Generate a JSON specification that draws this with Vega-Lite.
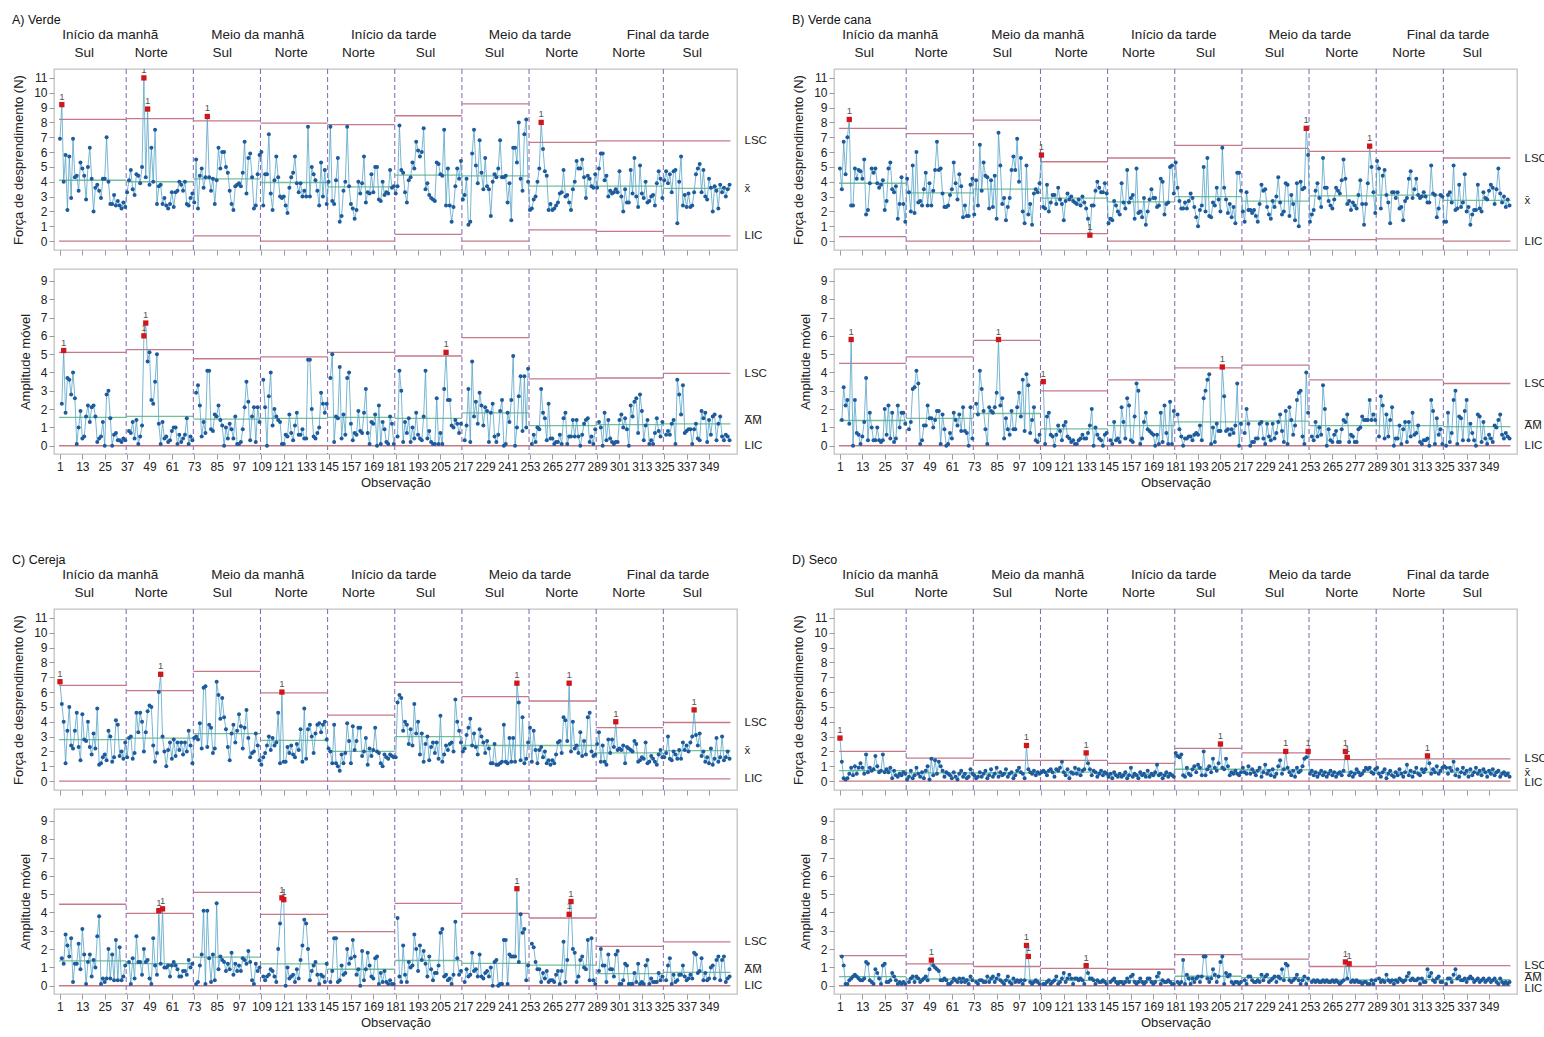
{
"$schema":"https://vega.github.io/schema/vega-lite/v6.json",
"background":"white",
"padding":{"left":12,"top":13,"right":0,"bottom":0},
"config":{
 "font":"Liberation Sans, Arial, sans-serif",
 "view":{"stroke":"#c2c2c2","strokeWidth":1.3},
 "axis":{"labelFont":"Liberation Sans, Arial, sans-serif","titleFont":"Liberation Sans, Arial, sans-serif","labelFontSize":12,"titleFontSize":13,"titleFontWeight":"normal","labelColor":"#222","titleColor":"#222","tickColor":"#999","domain":false,"grid":false},
 "title":{"font":"Liberation Sans, Arial, sans-serif","fontSize":12.5,"fontWeight":"normal","anchor":"start","color":"#111"}
},
"datasets":{
"hdr":[{"i":28,"t":"Início da manhã","r":"p"},{"i":107,"t":"Meio da manhã","r":"p"},{"i":180,"t":"Início da tarde","r":"p"},{"i":253,"t":"Meio da tarde","r":"p"},{"i":327,"t":"Final da tarde","r":"p"},{"i":14,"t":"Sul","r":"s"},{"i":50,"t":"Norte","r":"s"},{"i":88,"t":"Sul","r":"s"},{"i":125,"t":"Norte","r":"s"},{"i":161,"t":"Norte","r":"s"},{"i":197,"t":"Sul","r":"s"},{"i":234,"t":"Sul","r":"s"},{"i":270,"t":"Norte","r":"s"},{"i":306,"t":"Norte","r":"s"},{"i":340,"t":"Sul","r":"s"}],
"sep":[{"i":36.5},{"i":72.5},{"i":108.5},{"i":144.5},{"i":180.5},{"i":216.5},{"i":252.5},{"i":288.5},{"i":324.5}],
"lim":[
{"p":"A","i":0.5,"j":36.5,"u":8.2,"c":4.1,"l":0,"mu":5.1,"mc":1.55,"ml":0},
{"p":"A","i":36.5,"j":72.5,"u":8.25,"c":4.0,"l":0,"mu":5.25,"mc":1.6,"ml":0},
{"p":"A","i":72.5,"j":108.5,"u":8.1,"c":4.2,"l":0.35,"mu":4.75,"mc":1.45,"ml":0},
{"p":"A","i":108.5,"j":144.5,"u":7.95,"c":3.95,"l":0,"mu":4.85,"mc":1.5,"ml":0},
{"p":"A","i":144.5,"j":180.5,"u":7.85,"c":3.65,"l":0,"mu":5.1,"mc":1.55,"ml":0},
{"p":"A","i":180.5,"j":216.5,"u":8.45,"c":4.45,"l":0.45,"mu":4.9,"mc":1.5,"ml":0},
{"p":"A","i":216.5,"j":252.5,"u":9.25,"c":4.4,"l":0,"mu":5.9,"mc":1.8,"ml":0},
{"p":"A","i":252.5,"j":288.5,"u":6.65,"c":3.7,"l":0.75,"mu":3.65,"mc":1.1,"ml":0},
{"p":"A","i":288.5,"j":324.5,"u":6.75,"c":3.7,"l":0.65,"mu":3.7,"mc":1.15,"ml":0},
{"p":"A","i":324.5,"j":360.5,"u":6.75,"c":3.55,"l":0.35,"mu":3.95,"mc":1.2,"ml":0},
{"p":"B","i":0.5,"j":36.5,"u":7.6,"c":3.9,"l":0.3,"mu":4.5,"mc":1.38,"ml":0},
{"p":"B","i":36.5,"j":72.5,"u":7.25,"c":3.25,"l":0,"mu":4.85,"mc":1.5,"ml":0},
{"p":"B","i":72.5,"j":108.5,"u":8.15,"c":3.5,"l":0,"mu":5.75,"mc":1.76,"ml":0},
{"p":"B","i":108.5,"j":144.5,"u":5.35,"c":2.9,"l":0.5,"mu":3.0,"mc":0.92,"ml":0},
{"p":"B","i":144.5,"j":180.5,"u":5.6,"c":2.65,"l":0,"mu":3.6,"mc":1.1,"ml":0},
{"p":"B","i":180.5,"j":216.5,"u":6.45,"c":3.0,"l":0,"mu":4.25,"mc":1.3,"ml":0},
{"p":"B","i":216.5,"j":252.5,"u":6.25,"c":2.7,"l":0,"mu":4.4,"mc":1.35,"ml":0},
{"p":"B","i":252.5,"j":288.5,"u":6.05,"c":3.05,"l":0.1,"mu":3.6,"mc":1.1,"ml":0},
{"p":"B","i":288.5,"j":324.5,"u":6.05,"c":3.1,"l":0.15,"mu":3.6,"mc":1.1,"ml":0},
{"p":"B","i":324.5,"j":360.5,"u":5.6,"c":2.75,"l":0,"mu":3.4,"mc":1.04,"ml":0},
{"p":"C","i":0.5,"j":36.5,"u":6.45,"c":2.8,"l":0,"mu":4.45,"mc":1.36,"ml":0},
{"p":"C","i":36.5,"j":72.5,"u":6.1,"c":2.9,"l":0,"mu":3.95,"mc":1.21,"ml":0},
{"p":"C","i":72.5,"j":108.5,"u":7.4,"c":3.2,"l":0,"mu":5.1,"mc":1.56,"ml":0},
{"p":"C","i":108.5,"j":144.5,"u":5.95,"c":2.75,"l":0,"mu":3.9,"mc":1.2,"ml":0},
{"p":"C","i":144.5,"j":180.5,"u":4.45,"c":2.0,"l":0,"mu":2.95,"mc":0.9,"ml":0},
{"p":"C","i":180.5,"j":216.5,"u":6.65,"c":3.0,"l":0,"mu":4.5,"mc":1.38,"ml":0},
{"p":"C","i":216.5,"j":252.5,"u":5.7,"c":2.4,"l":0,"mu":3.95,"mc":1.22,"ml":0},
{"p":"C","i":252.5,"j":288.5,"u":5.4,"c":2.4,"l":0,"mu":3.7,"mc":1.13,"ml":0},
{"p":"C","i":288.5,"j":324.5,"u":3.6,"c":1.9,"l":0.2,"mu":2.15,"mc":0.66,"ml":0},
{"p":"C","i":324.5,"j":360.5,"u":3.95,"c":2.05,"l":0.15,"mu":2.4,"mc":0.73,"ml":0},
{"p":"D","i":0.5,"j":36.5,"u":2.0,"c":0.7,"l":0,"mu":1.65,"mc":0.5,"ml":0},
{"p":"D","i":36.5,"j":72.5,"u":1.55,"c":0.55,"l":0,"mu":1.2,"mc":0.37,"ml":0},
{"p":"D","i":72.5,"j":108.5,"u":1.4,"c":0.55,"l":0,"mu":1.05,"mc":0.32,"ml":0},
{"p":"D","i":108.5,"j":144.5,"u":1.4,"c":0.6,"l":0,"mu":0.95,"mc":0.29,"ml":0},
{"p":"D","i":144.5,"j":180.5,"u":1.2,"c":0.45,"l":0,"mu":0.9,"mc":0.28,"ml":0},
{"p":"D","i":180.5,"j":216.5,"u":2.2,"c":0.8,"l":0,"mu":1.7,"mc":0.52,"ml":0},
{"p":"D","i":216.5,"j":252.5,"u":1.9,"c":0.75,"l":0,"mu":1.45,"mc":0.44,"ml":0},
{"p":"D","i":252.5,"j":288.5,"u":1.45,"c":0.6,"l":0,"mu":1.05,"mc":0.32,"ml":0},
{"p":"D","i":288.5,"j":324.5,"u":1.5,"c":0.6,"l":0,"mu":1.1,"mc":0.34,"ml":0},
{"p":"D","i":324.5,"j":360.5,"u":1.5,"c":0.6,"l":0,"mu":1.1,"mc":0.34,"ml":0}
],
"A":[
{"i":1,"f":6.9},{"i":2,"f":9.2,"m":2.3,"o":1},{"i":3,"f":4.0,"m":5.2,"q":1},{"i":4,"f":5.8,"m":1.8},{"i":5,"f":2.1,"m":3.7},{"i":6,"f":5.7,"m":3.6},{"i":7,"f":2.9,"m":2.8},{"i":8,"f":6.9,"m":4.0},{"i":9,"f":4.3,"m":2.6},{"i":10,"f":4.4,"m":0.1},{"i":11,"f":3.4,"m":1.0},{"i":12,"f":5.3,"m":1.9},{"i":13,"f":4.9,"m":0.4},{"i":14,"f":4.4,"m":0.5},{"i":15,"f":2.8,"m":1.6},{"i":16,"f":5.0,"m":2.2},{"i":17,"f":6.3,"m":1.3},{"i":18,"f":4.2,"m":2.1},{"i":19,"f":2.0,"m":2.2},{"i":20,"f":3.6,"m":1.6},{"i":21,"f":3.8,"m":0.2},{"i":22,"f":3.4,"m":0.4},{"i":23,"f":2.9,"m":0.5},{"i":24,"f":4.2,"m":1.3},{"i":25,"f":4.2,"m":0.0},{"i":26,"f":7.0,"m":2.8},{"i":27,"f":4.0,"m":3.0},{"i":28,"f":2.5,"m":1.5},{"i":29,"f":2.5,"m":0.0},{"i":30,"f":3.1,"m":0.6},{"i":31,"f":2.4,"m":0.7},{"i":32,"f":2.7,"m":0.3},{"i":33,"f":2.4,"m":0.3},{"i":34,"f":2.2,"m":0.2},{"i":35,"f":2.6,"m":0.4},{"i":36,"f":2.3,"m":0.3},
{"i":37,"f":3.3},{"i":38,"f":4.1,"m":0.8},{"i":39,"f":4.8,"m":0.7},{"i":40,"f":3.5,"m":1.3},{"i":41,"f":3.1,"m":0.4},{"i":42,"f":4.5,"m":1.4},{"i":43,"f":4.4,"m":0.1},{"i":44,"f":3.9,"m":0.5},{"i":45,"f":5.0,"m":1.1},{"i":46,"f":11.0,"m":6.0,"o":1,"q":1},{"i":47,"f":4.3,"m":6.7,"q":1},{"i":48,"f":8.9,"m":4.6,"o":1},{"i":49,"f":3.8,"m":5.1},{"i":50,"f":6.3,"m":2.5},{"i":51,"f":4.0,"m":2.3},{"i":52,"f":7.5,"m":3.5},{"i":53,"f":2.5,"m":5.0},{"i":54,"f":3.7,"m":1.2},{"i":55,"f":3.8,"m":0.1},{"i":56,"f":2.5,"m":1.3},{"i":57,"f":2.9,"m":0.4},{"i":58,"f":2.4,"m":0.5},{"i":59,"f":2.2,"m":0.2},{"i":60,"f":2.5,"m":0.3},{"i":61,"f":3.3,"m":0.8},{"i":62,"f":2.3,"m":1.0},{"i":63,"f":3.3,"m":1.0},{"i":64,"f":3.4,"m":0.1},{"i":65,"f":4.0,"m":0.6},{"i":66,"f":3.8,"m":0.2},{"i":67,"f":3.4,"m":0.4},{"i":68,"f":4.0,"m":0.6},{"i":69,"f":2.5,"m":1.5},{"i":70,"f":2.4,"m":0.1},{"i":71,"f":2.9,"m":0.5},{"i":72,"f":3.2,"m":0.3},
{"i":73,"f":2.6},{"i":74,"f":5.5,"m":2.9},{"i":75,"f":2.2,"m":3.3},{"i":76,"f":4.4,"m":2.2},{"i":77,"f":4.9,"m":0.5},{"i":78,"f":3.6,"m":1.3},{"i":79,"f":4.3,"m":0.7},{"i":80,"f":8.4,"m":4.1,"o":1},{"i":81,"f":4.3,"m":4.1},{"i":82,"f":3.4,"m":0.9},{"i":83,"f":4.2,"m":0.8},{"i":84,"f":2.5,"m":1.7},{"i":85,"f":4.1,"m":1.6},{"i":86,"f":6.3,"m":2.2},{"i":87,"f":4.9,"m":1.4},{"i":88,"f":6.0,"m":1.1},{"i":89,"f":6.0,"m":0.0},{"i":90,"f":5.0,"m":1.0},{"i":91,"f":4.6,"m":0.4},{"i":92,"f":3.4,"m":1.2},{"i":93,"f":2.5,"m":0.9},{"i":94,"f":2.1,"m":0.4},{"i":95,"f":3.7,"m":1.6},{"i":96,"f":3.8,"m":0.1},{"i":97,"f":3.9,"m":0.1},{"i":98,"f":3.7,"m":0.2},{"i":99,"f":4.6,"m":0.9},{"i":100,"f":6.7,"m":2.1},{"i":101,"f":3.2,"m":3.5},{"i":102,"f":5.6,"m":2.4},{"i":103,"f":5.9,"m":0.3},{"i":104,"f":4.3,"m":1.6},{"i":105,"f":2.2,"m":2.1},{"i":106,"f":2.4,"m":0.2},{"i":107,"f":4.5,"m":2.1},{"i":108,"f":5.8,"m":1.3},
{"i":109,"f":6.0},{"i":110,"f":2.4,"m":3.6},{"i":111,"f":4.5,"m":2.1},{"i":112,"f":4.5,"m":0.0},{"i":113,"f":7.2,"m":2.7},{"i":114,"f":3.2,"m":4.0},{"i":115,"f":2.1,"m":1.1},{"i":116,"f":4.1,"m":2.0},{"i":117,"f":5.7,"m":1.6},{"i":118,"f":4.3,"m":1.4},{"i":119,"f":3.0,"m":1.3},{"i":120,"f":2.9,"m":0.1},{"i":121,"f":3.0,"m":0.1},{"i":122,"f":2.4,"m":0.6},{"i":123,"f":1.9,"m":0.5},{"i":124,"f":3.6,"m":1.7},{"i":125,"f":4.3,"m":0.7},{"i":126,"f":4.6,"m":0.3},{"i":127,"f":5.7,"m":1.1},{"i":128,"f":3.9,"m":1.8},{"i":129,"f":3.3,"m":0.6},{"i":130,"f":3.9,"m":0.6},{"i":131,"f":3.0,"m":0.9},{"i":132,"f":3.4,"m":0.4},{"i":133,"f":3.0,"m":0.4},{"i":134,"f":7.7,"m":4.7},{"i":135,"f":3.0,"m":4.7},{"i":136,"f":5.0,"m":2.0},{"i":137,"f":4.5,"m":0.5},{"i":138,"f":4.1,"m":0.4},{"i":139,"f":3.4,"m":0.7},{"i":140,"f":2.4,"m":1.0},{"i":141,"f":5.3,"m":2.9},{"i":142,"f":3.0,"m":2.3},{"i":143,"f":4.8,"m":1.8},{"i":144,"f":2.5,"m":2.3},
{"i":145,"f":4.0},{"i":146,"f":7.7,"m":3.7},{"i":147,"f":2.7,"m":5.0},{"i":148,"f":2.5,"m":0.2},{"i":149,"f":4.1,"m":1.6},{"i":150,"f":5.6,"m":1.5},{"i":151,"f":1.3,"m":4.3},{"i":152,"f":1.7,"m":0.4},{"i":153,"f":3.4,"m":1.7},{"i":154,"f":4.0,"m":0.6},{"i":155,"f":7.7,"m":3.7},{"i":156,"f":3.7,"m":4.0},{"i":157,"f":2.5,"m":1.2},{"i":158,"f":2.2,"m":0.3},{"i":159,"f":1.5,"m":0.7},{"i":160,"f":2.1,"m":0.6},{"i":161,"f":4.0,"m":1.9},{"i":162,"f":3.2,"m":0.8},{"i":163,"f":3.9,"m":0.7},{"i":164,"f":5.7,"m":1.8},{"i":165,"f":2.6,"m":3.1},{"i":166,"f":3.3,"m":0.7},{"i":167,"f":3.2,"m":0.1},{"i":168,"f":4.5,"m":1.3},{"i":169,"f":3.3,"m":1.2},{"i":170,"f":5.0,"m":1.7},{"i":171,"f":5.0,"m":0.0},{"i":172,"f":2.8,"m":2.2},{"i":173,"f":2.7,"m":0.1},{"i":174,"f":4.0,"m":1.3},{"i":175,"f":3.1,"m":0.9},{"i":176,"f":3.3,"m":0.2},{"i":177,"f":3.2,"m":0.1},{"i":178,"f":4.8,"m":1.6},{"i":179,"f":3.6,"m":1.2},{"i":180,"f":3.7,"m":0.1},
{"i":181,"f":3.2},{"i":182,"f":3.7,"m":0.5},{"i":183,"f":7.8,"m":4.1},{"i":184,"f":4.8,"m":3.0},{"i":185,"f":4.6,"m":0.2},{"i":186,"f":3.3,"m":1.3},{"i":187,"f":2.6,"m":0.7},{"i":188,"f":4.1,"m":1.5},{"i":189,"f":4.3,"m":0.2},{"i":190,"f":5.3,"m":1.0},{"i":191,"f":4.9,"m":0.4},{"i":192,"f":6.7,"m":1.8},{"i":193,"f":6.1,"m":0.6},{"i":194,"f":5.7,"m":0.4},{"i":195,"f":6.0,"m":0.3},{"i":196,"f":7.6,"m":1.6},{"i":197,"f":3.5,"m":4.1},{"i":198,"f":3.9,"m":0.4},{"i":199,"f":3.1,"m":0.8},{"i":200,"f":2.9,"m":0.2},{"i":201,"f":2.8,"m":0.1},{"i":202,"f":2.7,"m":0.1},{"i":203,"f":5.3,"m":2.6},{"i":204,"f":5.2,"m":0.1},{"i":205,"f":4.5,"m":0.7},{"i":206,"f":4.4,"m":0.1},{"i":207,"f":7.5,"m":3.1},{"i":208,"f":2.4,"m":5.1,"q":1},{"i":209,"f":4.9,"m":2.5},{"i":210,"f":2.4,"m":2.5},{"i":211,"f":1.3,"m":1.1},{"i":212,"f":2.3,"m":1.0},{"i":213,"f":3.7,"m":1.4},{"i":214,"f":4.9,"m":1.2},{"i":215,"f":4.2,"m":0.7},{"i":216,"f":5.4,"m":1.2},
{"i":217,"f":2.8},{"i":218,"f":3.1,"m":0.3},{"i":219,"f":4.2,"m":1.1},{"i":220,"f":1.1,"m":3.1},{"i":221,"f":1.3,"m":0.2},{"i":222,"f":5.9,"m":4.6},{"i":223,"f":7.5,"m":1.6},{"i":224,"f":5.1,"m":2.4},{"i":225,"f":3.9,"m":1.2},{"i":226,"f":6.8,"m":2.9},{"i":227,"f":4.6,"m":2.2},{"i":228,"f":3.5,"m":1.1},{"i":229,"f":5.6,"m":2.1},{"i":230,"f":3.7,"m":1.9},{"i":231,"f":3.5,"m":0.2},{"i":232,"f":1.7,"m":1.8},{"i":233,"f":4.0,"m":2.3},{"i":234,"f":4.5,"m":0.5},{"i":235,"f":4.3,"m":0.2},{"i":236,"f":4.9,"m":0.6},{"i":237,"f":6.8,"m":1.9},{"i":238,"f":4.3,"m":2.5},{"i":239,"f":4.3,"m":0.0},{"i":240,"f":4.4,"m":0.1},{"i":241,"f":2.6,"m":1.8},{"i":242,"f":3.9,"m":1.3},{"i":243,"f":1.4,"m":2.5},{"i":244,"f":6.3,"m":4.9},{"i":245,"f":6.3,"m":0.0},{"i":246,"f":5.3,"m":1.0},{"i":247,"f":8.0,"m":2.7},{"i":248,"f":4.2,"m":3.8},{"i":249,"f":3.4,"m":0.8},{"i":250,"f":7.2,"m":3.8},{"i":251,"f":8.2,"m":1.0},{"i":252,"f":4.0,"m":4.2},
{"i":253,"f":2.1},{"i":254,"f":2.2,"m":0.1},{"i":255,"f":2.8,"m":0.6},{"i":256,"f":3.0,"m":0.2},{"i":257,"f":4.0,"m":1.0},{"i":258,"f":4.9,"m":0.9},{"i":259,"f":8.0,"m":3.1,"o":1},{"i":260,"f":6.2,"m":1.8},{"i":261,"f":4.7,"m":1.5},{"i":262,"f":4.4,"m":0.3},{"i":263,"f":2.1,"m":2.3},{"i":264,"f":2.5,"m":0.4},{"i":265,"f":2.1,"m":0.4},{"i":266,"f":2.2,"m":0.1},{"i":267,"f":2.4,"m":0.2},{"i":268,"f":2.6,"m":0.2},{"i":269,"f":3.2,"m":0.6},{"i":270,"f":3.3,"m":0.1},{"i":271,"f":4.8,"m":1.5},{"i":272,"f":3.0,"m":1.8},{"i":273,"f":3.1,"m":0.1},{"i":274,"f":2.6,"m":0.5},{"i":275,"f":2.1,"m":0.5},{"i":276,"f":3.5,"m":1.4},{"i":277,"f":4.0,"m":0.5},{"i":278,"f":5.4,"m":1.4},{"i":279,"f":4.9,"m":0.5},{"i":280,"f":4.9,"m":0.0},{"i":281,"f":5.5,"m":0.6},{"i":282,"f":4.3,"m":1.2},{"i":283,"f":2.9,"m":1.4},{"i":284,"f":4.4,"m":1.5},{"i":285,"f":4.2,"m":0.2},{"i":286,"f":3.7,"m":0.5},{"i":287,"f":3.6,"m":0.1},{"i":288,"f":4.5,"m":0.9},
{"i":289,"f":3.6},{"i":290,"f":4.9,"m":1.3},{"i":291,"f":5.9,"m":1.0},{"i":292,"f":5.9,"m":0.0},{"i":293,"f":4.1,"m":1.8},{"i":294,"f":4.4,"m":0.3},{"i":295,"f":3.0,"m":1.4},{"i":296,"f":3.4,"m":0.4},{"i":297,"f":3.2,"m":0.2},{"i":298,"f":3.3,"m":0.1},{"i":299,"f":3.5,"m":0.2},{"i":300,"f":3.3,"m":0.2},{"i":301,"f":4.7,"m":1.4},{"i":302,"f":3.0,"m":1.7},{"i":303,"f":2.0,"m":1.0},{"i":304,"f":3.5,"m":1.5},{"i":305,"f":2.6,"m":0.9},{"i":306,"f":2.6,"m":0.0},{"i":307,"f":4.8,"m":2.2},{"i":308,"f":3.2,"m":1.6},{"i":309,"f":5.6,"m":2.4},{"i":310,"f":3.0,"m":2.6},{"i":311,"f":2.3,"m":0.7},{"i":312,"f":5.1,"m":2.8},{"i":313,"f":3.2,"m":1.9},{"i":314,"f":2.9,"m":0.3},{"i":315,"f":4.0,"m":1.1},{"i":316,"f":2.6,"m":1.4},{"i":317,"f":2.7,"m":0.1},{"i":318,"f":3.0,"m":0.3},{"i":319,"f":3.1,"m":0.1},{"i":320,"f":2.4,"m":0.7},{"i":321,"f":3.9,"m":1.5},{"i":322,"f":4.7,"m":0.8},{"i":323,"f":4.2,"m":0.5},{"i":324,"f":2.9,"m":1.3},
{"i":325,"f":4.1},{"i":326,"f":4.7,"m":0.6},{"i":327,"f":3.9,"m":0.8},{"i":328,"f":4.5,"m":0.6},{"i":329,"f":3.3,"m":1.2},{"i":330,"f":4.7,"m":1.4},{"i":331,"f":4.8,"m":0.1},{"i":332,"f":1.2,"m":3.6},{"i":333,"f":4.0,"m":2.8},{"i":334,"f":5.7,"m":1.7},{"i":335,"f":2.4,"m":3.3},{"i":336,"f":3.1,"m":0.7},{"i":337,"f":2.3,"m":0.8},{"i":338,"f":3.2,"m":0.9},{"i":339,"f":2.3,"m":0.9},{"i":340,"f":2.4,"m":0.1},{"i":341,"f":3.3,"m":0.9},{"i":342,"f":4.5,"m":1.2},{"i":343,"f":4.9,"m":0.4},{"i":344,"f":5.2,"m":0.3},{"i":345,"f":3.3,"m":1.9},{"i":346,"f":4.8,"m":1.5},{"i":347,"f":3.0,"m":1.8},{"i":348,"f":2.8,"m":0.2},{"i":349,"f":4.2,"m":1.4},{"i":350,"f":3.6,"m":0.6},{"i":351,"f":2.0,"m":1.6},{"i":352,"f":3.7,"m":1.7},{"i":353,"f":3.4,"m":0.3},{"i":354,"f":2.2,"m":1.2},{"i":355,"f":3.8,"m":1.6},{"i":356,"f":3.3,"m":0.5},{"i":357,"f":3.6,"m":0.3},{"i":358,"f":3.0,"m":0.6},{"i":359,"f":3.5,"m":0.5},{"i":360,"f":3.8,"m":0.3}
],
"B":[
{"i":1,"f":4.9},{"i":2,"f":3.5,"m":1.4},{"i":3,"f":6.7,"m":3.2},{"i":4,"f":4.5,"m":2.2},{"i":5,"f":7.0,"m":2.5},{"i":6,"f":8.2,"m":1.2,"o":1},{"i":7,"f":2.4,"m":5.8,"q":1},{"i":8,"f":2.4,"m":0.0},{"i":9,"f":4.9,"m":2.5},{"i":10,"f":4.2,"m":0.7},{"i":11,"f":4.8,"m":0.6},{"i":12,"f":4.7,"m":0.1},{"i":13,"f":4.2,"m":0.5},{"i":14,"f":5.5,"m":1.3},{"i":15,"f":1.8,"m":3.7},{"i":16,"f":2.1,"m":0.3},{"i":17,"f":3.9,"m":1.8},{"i":18,"f":4.9,"m":1.0},{"i":19,"f":4.6,"m":0.3},{"i":20,"f":4.9,"m":0.3},{"i":21,"f":3.9,"m":1.0},{"i":22,"f":3.6,"m":0.3},{"i":23,"f":3.8,"m":0.2},{"i":24,"f":4.1,"m":0.3},{"i":25,"f":2.1,"m":2.0},{"i":26,"f":2.7,"m":0.6},{"i":27,"f":4.9,"m":2.2},{"i":28,"f":5.3,"m":0.4},{"i":29,"f":3.5,"m":1.8},{"i":30,"f":3.3,"m":0.2},{"i":31,"f":3.7,"m":0.4},{"i":32,"f":1.5,"m":2.2},{"i":33,"f":2.5,"m":1.0},{"i":34,"f":4.3,"m":1.8},{"i":35,"f":2.5,"m":1.8},{"i":36,"f":1.3,"m":1.2},
{"i":37,"f":4.2},{"i":38,"f":3.3,"m":0.9},{"i":39,"f":2.0,"m":1.3},{"i":40,"f":5.1,"m":3.1},{"i":41,"f":1.9,"m":3.2},{"i":42,"f":6.0,"m":4.1},{"i":43,"f":2.6,"m":3.4},{"i":44,"f":2.7,"m":0.1},{"i":45,"f":2.4,"m":0.3},{"i":46,"f":3.5,"m":1.1},{"i":47,"f":4.6,"m":1.1},{"i":48,"f":2.4,"m":2.2},{"i":49,"f":3.9,"m":1.5},{"i":50,"f":2.4,"m":1.5},{"i":51,"f":3.4,"m":1.0},{"i":52,"f":4.8,"m":1.4},{"i":53,"f":6.7,"m":1.9},{"i":54,"f":4.8,"m":1.9},{"i":55,"f":4.9,"m":0.1},{"i":56,"f":3.2,"m":1.7},{"i":57,"f":2.3,"m":0.9},{"i":58,"f":2.3,"m":0.0},{"i":59,"f":2.4,"m":0.1},{"i":60,"f":3.1,"m":0.7},{"i":61,"f":3.5,"m":0.4},{"i":62,"f":5.3,"m":1.8},{"i":63,"f":3.9,"m":1.4},{"i":64,"f":2.8,"m":1.1},{"i":65,"f":4.5,"m":1.7},{"i":66,"f":3.7,"m":0.8},{"i":67,"f":1.6,"m":2.1},{"i":68,"f":2.4,"m":0.8},{"i":69,"f":1.7,"m":0.7},{"i":70,"f":1.7,"m":0.0},{"i":71,"f":3.8,"m":2.1},{"i":72,"f":4.2,"m":0.4},
{"i":73,"f":1.8},{"i":74,"f":4.1,"m":2.3},{"i":75,"f":2.4,"m":1.7},{"i":76,"f":6.5,"m":4.1},{"i":77,"f":3.4,"m":3.1},{"i":78,"f":5.3,"m":1.9},{"i":79,"f":4.4,"m":0.9},{"i":80,"f":4.3,"m":0.1},{"i":81,"f":2.2,"m":2.1},{"i":82,"f":4.1,"m":1.9},{"i":83,"f":2.3,"m":1.8},{"i":84,"f":4.4,"m":2.1},{"i":85,"f":1.5,"m":2.9},{"i":86,"f":7.3,"m":5.8,"q":1},{"i":87,"f":5.1,"m":2.2},{"i":88,"f":2.5,"m":2.6},{"i":89,"f":2.9,"m":0.4},{"i":90,"f":1.4,"m":1.5},{"i":91,"f":2.3,"m":0.9},{"i":92,"f":2.9,"m":0.6},{"i":93,"f":4.8,"m":1.9},{"i":94,"f":5.7,"m":0.9},{"i":95,"f":4.8,"m":0.9},{"i":96,"f":6.9,"m":2.1},{"i":97,"f":4.0,"m":2.9},{"i":98,"f":5.6,"m":1.6},{"i":99,"f":2.0,"m":3.6},{"i":100,"f":1.2,"m":0.8},{"i":101,"f":5.1,"m":3.9},{"i":102,"f":1.8,"m":3.3},{"i":103,"f":2.5,"m":0.7},{"i":104,"f":1.1,"m":1.4},{"i":105,"f":3.2,"m":2.1},{"i":106,"f":3.5,"m":0.3},{"i":107,"f":3.3,"m":0.2},{"i":108,"f":3.9,"m":0.6},
{"i":109,"f":5.8,"o":1},{"i":110,"f":2.3,"m":3.5,"q":1},{"i":111,"f":2.2,"m":0.1},{"i":112,"f":3.8,"m":1.6},{"i":113,"f":2.0,"m":1.8},{"i":114,"f":2.6,"m":0.6},{"i":115,"f":3.1,"m":0.5},{"i":116,"f":3.1,"m":0.0},{"i":117,"f":2.5,"m":0.6},{"i":118,"f":3.6,"m":1.1},{"i":119,"f":2.8,"m":0.8},{"i":120,"f":2.5,"m":0.3},{"i":121,"f":1.4,"m":1.1},{"i":122,"f":2.7,"m":1.3},{"i":123,"f":3.2,"m":0.5},{"i":124,"f":2.8,"m":0.4},{"i":125,"f":3.0,"m":0.2},{"i":126,"f":2.7,"m":0.3},{"i":127,"f":2.6,"m":0.1},{"i":128,"f":2.5,"m":0.1},{"i":129,"f":2.8,"m":0.3},{"i":130,"f":2.4,"m":0.4},{"i":131,"f":3.0,"m":0.6},{"i":132,"f":2.6,"m":0.4},{"i":133,"f":2.2,"m":0.4},{"i":134,"f":1.5,"m":0.7},{"i":135,"f":0.4,"m":1.1,"o":1},{"i":136,"f":2.4,"m":2.0},{"i":137,"f":2.4,"m":0.0},{"i":138,"f":3.4,"m":1.0},{"i":139,"f":4.0,"m":0.6},{"i":140,"f":3.6,"m":0.4},{"i":141,"f":3.3,"m":0.3},{"i":142,"f":3.3,"m":0.0},{"i":143,"f":3.9,"m":0.6},{"i":144,"f":3.2,"m":0.7},
{"i":145,"f":1.2},{"i":146,"f":1.5,"m":0.3},{"i":147,"f":1.4,"m":0.1},{"i":148,"f":2.7,"m":1.3},{"i":149,"f":2.4,"m":0.3},{"i":150,"f":2.0,"m":0.4},{"i":151,"f":1.8,"m":0.2},{"i":152,"f":3.9,"m":2.1},{"i":153,"f":2.6,"m":1.3},{"i":154,"f":2.2,"m":0.4},{"i":155,"f":4.8,"m":2.6},{"i":156,"f":2.6,"m":2.2},{"i":157,"f":2.9,"m":0.3},{"i":158,"f":3.1,"m":0.2},{"i":159,"f":1.5,"m":1.6},{"i":160,"f":4.9,"m":3.4},{"i":161,"f":1.9,"m":3.0},{"i":162,"f":2.0,"m":0.1},{"i":163,"f":1.6,"m":0.4},{"i":164,"f":2.9,"m":1.3},{"i":165,"f":1.1,"m":1.8},{"i":166,"f":2.0,"m":0.9},{"i":167,"f":2.8,"m":0.8},{"i":168,"f":3.5,"m":0.7},{"i":169,"f":2.9,"m":0.6},{"i":170,"f":2.9,"m":0.0},{"i":171,"f":2.3,"m":0.6},{"i":172,"f":2.4,"m":0.1},{"i":173,"f":4.2,"m":1.8},{"i":174,"f":4.0,"m":0.2},{"i":175,"f":1.8,"m":2.2},{"i":176,"f":2.5,"m":0.7},{"i":177,"f":2.6,"m":0.1},{"i":178,"f":5.0,"m":2.4},{"i":179,"f":5.1,"m":0.1},{"i":180,"f":3.2,"m":1.9},
{"i":181,"f":5.3},{"i":182,"f":3.6,"m":1.7},{"i":183,"f":2.7,"m":0.9},{"i":184,"f":2.2,"m":0.5},{"i":185,"f":2.2,"m":0.0},{"i":186,"f":2.6,"m":0.4},{"i":187,"f":2.2,"m":0.4},{"i":188,"f":2.7,"m":0.5},{"i":189,"f":3.2,"m":0.5},{"i":190,"f":2.9,"m":0.3},{"i":191,"f":2.3,"m":0.6},{"i":192,"f":1.6,"m":0.7},{"i":193,"f":1.0,"m":0.6},{"i":194,"f":2.1,"m":1.1},{"i":195,"f":2.4,"m":0.3},{"i":196,"f":5.0,"m":2.6},{"i":197,"f":2.0,"m":3.0},{"i":198,"f":5.6,"m":3.6},{"i":199,"f":1.7,"m":3.9},{"i":200,"f":1.6,"m":0.1},{"i":201,"f":2.6,"m":1.0},{"i":202,"f":2.4,"m":0.2},{"i":203,"f":3.6,"m":1.2},{"i":204,"f":2.8,"m":0.8},{"i":205,"f":2.0,"m":0.8},{"i":206,"f":6.3,"m":4.3,"q":1},{"i":207,"f":3.6,"m":2.7},{"i":208,"f":2.8,"m":0.8},{"i":209,"f":1.9,"m":0.9},{"i":210,"f":2.5,"m":0.6},{"i":211,"f":1.6,"m":0.9},{"i":212,"f":2.3,"m":0.7},{"i":213,"f":1.2,"m":1.1},{"i":214,"f":4.6,"m":3.4},{"i":215,"f":4.6,"m":0.0},{"i":216,"f":3.4,"m":1.2},
{"i":217,"f":2.0},{"i":218,"f":1.3,"m":0.7},{"i":219,"f":3.3,"m":2.0},{"i":220,"f":2.1,"m":1.2},{"i":221,"f":2.1,"m":0.0},{"i":222,"f":1.9,"m":0.2},{"i":223,"f":2.1,"m":0.2},{"i":224,"f":1.7,"m":0.4},{"i":225,"f":1.3,"m":0.4},{"i":226,"f":2.5,"m":1.2},{"i":227,"f":3.8,"m":1.3},{"i":228,"f":3.4,"m":0.4},{"i":229,"f":3.5,"m":0.1},{"i":230,"f":2.3,"m":1.2},{"i":231,"f":1.8,"m":0.5},{"i":232,"f":1.5,"m":0.3},{"i":233,"f":2.7,"m":1.2},{"i":234,"f":2.3,"m":0.4},{"i":235,"f":3.0,"m":0.7},{"i":236,"f":4.3,"m":1.3},{"i":237,"f":2.6,"m":1.7},{"i":238,"f":1.8,"m":0.8},{"i":239,"f":2.0,"m":0.2},{"i":240,"f":3.9,"m":1.9},{"i":241,"f":3.8,"m":0.1},{"i":242,"f":1.7,"m":2.1},{"i":243,"f":3.1,"m":1.4},{"i":244,"f":2.5,"m":0.6},{"i":245,"f":1.4,"m":1.1},{"i":246,"f":3.9,"m":2.5},{"i":247,"f":1.0,"m":2.9},{"i":248,"f":4.0,"m":3.0},{"i":249,"f":3.5,"m":0.5},{"i":250,"f":3.6,"m":0.1},{"i":251,"f":7.6,"m":4.0,"o":1},{"i":252,"f":5.8,"m":1.8},
{"i":253,"f":1.3},{"i":254,"f":1.8,"m":0.5},{"i":255,"f":2.1,"m":0.3},{"i":256,"f":3.4,"m":1.3},{"i":257,"f":3.9,"m":0.5},{"i":258,"f":2.9,"m":1.0},{"i":259,"f":2.3,"m":0.6},{"i":260,"f":5.6,"m":3.3},{"i":261,"f":3.6,"m":2.0},{"i":262,"f":3.6,"m":0.0},{"i":263,"f":2.7,"m":0.9},{"i":264,"f":2.4,"m":0.3},{"i":265,"f":2.2,"m":0.2},{"i":266,"f":2.8,"m":0.6},{"i":267,"f":3.6,"m":0.8},{"i":268,"f":3.4,"m":0.2},{"i":269,"f":3.2,"m":0.2},{"i":270,"f":4.1,"m":0.9},{"i":271,"f":5.5,"m":1.4},{"i":272,"f":4.2,"m":1.3},{"i":273,"f":2.5,"m":1.7},{"i":274,"f":2.7,"m":0.2},{"i":275,"f":2.1,"m":0.6},{"i":276,"f":2.6,"m":0.5},{"i":277,"f":2.4,"m":0.2},{"i":278,"f":2.2,"m":0.2},{"i":279,"f":3.1,"m":0.9},{"i":280,"f":4.1,"m":1.0},{"i":281,"f":2.5,"m":1.6},{"i":282,"f":1.1,"m":1.4},{"i":283,"f":2.5,"m":1.4},{"i":284,"f":3.9,"m":1.4},{"i":285,"f":6.4,"m":2.5,"o":1},{"i":286,"f":5.0,"m":1.4},{"i":287,"f":3.3,"m":1.7},{"i":288,"f":1.9,"m":1.4},
{"i":289,"f":5.4},{"i":290,"f":4.9,"m":0.5},{"i":291,"f":2.2,"m":2.7},{"i":292,"f":4.4,"m":2.2},{"i":293,"f":4.8,"m":0.4},{"i":294,"f":3.1,"m":1.7},{"i":295,"f":2.6,"m":0.5},{"i":296,"f":1.2,"m":1.4},{"i":297,"f":3.3,"m":2.1},{"i":298,"f":3.3,"m":0.0},{"i":299,"f":2.9,"m":0.4},{"i":300,"f":3.3,"m":0.4},{"i":301,"f":2.2,"m":1.1},{"i":302,"f":2.3,"m":0.1},{"i":303,"f":1.4,"m":0.9},{"i":304,"f":2.7,"m":1.3},{"i":305,"f":2.9,"m":0.2},{"i":306,"f":4.2,"m":1.3},{"i":307,"f":4.7,"m":0.5},{"i":308,"f":2.9,"m":1.8},{"i":309,"f":3.5,"m":0.6},{"i":310,"f":4.2,"m":0.7},{"i":311,"f":3.1,"m":1.1},{"i":312,"f":2.9,"m":0.2},{"i":313,"f":3.0,"m":0.1},{"i":314,"f":3.3,"m":0.3},{"i":315,"f":3.0,"m":0.3},{"i":316,"f":2.6,"m":0.4},{"i":317,"f":2.6,"m":0.0},{"i":318,"f":5.1,"m":2.5},{"i":319,"f":3.2,"m":1.9},{"i":320,"f":3.1,"m":0.1},{"i":321,"f":1.6,"m":1.5},{"i":322,"f":2.2,"m":0.6},{"i":323,"f":3.1,"m":0.9},{"i":324,"f":3.0,"m":0.1},
{"i":325,"f":1.3},{"i":326,"f":1.3,"m":0.0},{"i":327,"f":3.1,"m":1.8},{"i":328,"f":3.3,"m":0.2},{"i":329,"f":2.6,"m":0.7},{"i":330,"f":5.1,"m":2.5},{"i":331,"f":2.1,"m":3.0},{"i":332,"f":2.2,"m":0.1},{"i":333,"f":3.8,"m":1.6},{"i":334,"f":2.3,"m":1.5},{"i":335,"f":2.6,"m":0.3},{"i":336,"f":4.5,"m":1.9},{"i":337,"f":2.0,"m":2.5},{"i":338,"f":2.3,"m":0.3},{"i":339,"f":1.1,"m":1.2},{"i":340,"f":1.8,"m":0.7},{"i":341,"f":2.1,"m":0.3},{"i":342,"f":2.1,"m":0.0},{"i":343,"f":3.8,"m":1.7},{"i":344,"f":2.2,"m":1.6},{"i":345,"f":2.0,"m":0.2},{"i":346,"f":3.3,"m":1.3},{"i":347,"f":2.9,"m":0.4},{"i":348,"f":2.8,"m":0.1},{"i":349,"f":3.4,"m":0.6},{"i":350,"f":3.8,"m":0.4},{"i":351,"f":3.6,"m":0.2},{"i":352,"f":2.5,"m":1.1},{"i":353,"f":3.5,"m":1.0},{"i":354,"f":4.9,"m":1.4},{"i":355,"f":3.2,"m":1.7},{"i":356,"f":2.6,"m":0.6},{"i":357,"f":3.0,"m":0.4},{"i":358,"f":2.3,"m":0.7},{"i":359,"f":2.8,"m":0.5},{"i":360,"f":2.4,"m":0.4}
],
"C":[
{"i":1,"f":6.7,"o":1},{"i":2,"f":5.2,"m":1.5},{"i":3,"f":4.0,"m":1.2},{"i":4,"f":1.2,"m":2.8},{"i":5,"f":3.4,"m":2.2},{"i":6,"f":5.0,"m":1.6},{"i":7,"f":2.4,"m":2.6},{"i":8,"f":2.2,"m":0.2},{"i":9,"f":3.4,"m":1.2},{"i":10,"f":4.6,"m":1.2},{"i":11,"f":2.3,"m":2.3},{"i":12,"f":1.4,"m":0.9},{"i":13,"f":4.5,"m":3.1},{"i":14,"f":2.8,"m":1.7},{"i":15,"f":2.7,"m":0.1},{"i":16,"f":4.0,"m":1.3},{"i":17,"f":2.3,"m":1.7},{"i":18,"f":1.8,"m":0.5},{"i":19,"f":3.2,"m":1.4},{"i":20,"f":2.2,"m":1.0},{"i":21,"f":4.9,"m":2.7},{"i":22,"f":1.1,"m":3.8},{"i":23,"f":1.2,"m":0.1},{"i":24,"f":1.6,"m":0.4},{"i":25,"f":1.8,"m":0.2},{"i":26,"f":1.4,"m":0.4},{"i":27,"f":3.4,"m":2.0},{"i":28,"f":3.0,"m":0.4},{"i":29,"f":1.3,"m":1.7},{"i":30,"f":1.6,"m":0.3},{"i":31,"f":4.1,"m":2.5},{"i":32,"f":3.8,"m":0.3},{"i":33,"f":1.7,"m":2.1},{"i":34,"f":2.0,"m":0.3},{"i":35,"f":1.5,"m":0.5},{"i":36,"f":2.6,"m":1.1},
{"i":37,"f":1.6},{"i":38,"f":2.9,"m":1.3},{"i":39,"f":3.0,"m":0.1},{"i":40,"f":1.5,"m":1.5},{"i":41,"f":1.9,"m":0.4},{"i":42,"f":4.6,"m":2.7},{"i":43,"f":3.3,"m":1.3},{"i":44,"f":4.6,"m":1.3},{"i":45,"f":4.0,"m":0.6},{"i":46,"f":2.0,"m":2.0},{"i":47,"f":3.3,"m":1.3},{"i":48,"f":4.7,"m":1.4},{"i":49,"f":5.1,"m":0.4},{"i":50,"f":5.0,"m":0.1},{"i":51,"f":2.4,"m":2.6},{"i":52,"f":1.3,"m":1.1},{"i":53,"f":1.9,"m":0.6},{"i":54,"f":6.0,"m":4.1,"q":1},{"i":55,"f":7.2,"m":1.2,"o":1},{"i":56,"f":3.0,"m":4.2,"q":1},{"i":57,"f":2.0,"m":1.0},{"i":58,"f":1.0,"m":1.0},{"i":59,"f":2.1,"m":1.1},{"i":60,"f":2.6,"m":0.5},{"i":61,"f":1.5,"m":1.1},{"i":62,"f":2.8,"m":1.3},{"i":63,"f":1.7,"m":1.1},{"i":64,"f":2.6,"m":0.9},{"i":65,"f":2.1,"m":0.5},{"i":66,"f":2.6,"m":0.5},{"i":67,"f":1.8,"m":0.8},{"i":68,"f":2.6,"m":0.8},{"i":69,"f":2.0,"m":0.6},{"i":70,"f":3.4,"m":1.4},{"i":71,"f":2.4,"m":1.0},{"i":72,"f":1.2,"m":1.2},
{"i":73,"f":2.9},{"i":74,"f":3.0,"m":0.1},{"i":75,"f":2.8,"m":0.2},{"i":76,"f":3.9,"m":1.1},{"i":77,"f":2.2,"m":1.7},{"i":78,"f":6.3,"m":4.1},{"i":79,"f":6.4,"m":0.1},{"i":80,"f":2.3,"m":4.1},{"i":81,"f":3.8,"m":1.5},{"i":82,"f":3.6,"m":0.2},{"i":83,"f":1.9,"m":1.7},{"i":84,"f":2.2,"m":0.3},{"i":85,"f":6.7,"m":4.5},{"i":86,"f":5.8,"m":0.9},{"i":87,"f":4.2,"m":1.6},{"i":88,"f":5.6,"m":1.4},{"i":89,"f":4.3,"m":1.3},{"i":90,"f":3.5,"m":0.8},{"i":91,"f":2.3,"m":1.2},{"i":92,"f":1.4,"m":0.9},{"i":93,"f":3.2,"m":1.8},{"i":94,"f":3.8,"m":0.6},{"i":95,"f":2.6,"m":1.2},{"i":96,"f":3.4,"m":0.8},{"i":97,"f":4.5,"m":1.1},{"i":98,"f":3.7,"m":0.8},{"i":99,"f":2.2,"m":1.5},{"i":100,"f":3.6,"m":1.4},{"i":101,"f":4.8,"m":1.2},{"i":102,"f":2.9,"m":1.9},{"i":103,"f":1.6,"m":1.3},{"i":104,"f":1.9,"m":0.3},{"i":105,"f":2.0,"m":0.1},{"i":106,"f":3.2,"m":1.2},{"i":107,"f":2.4,"m":0.8},{"i":108,"f":1.4,"m":1.0},
{"i":109,"f":1.1},{"i":110,"f":1.6,"m":0.5},{"i":111,"f":1.9,"m":0.3},{"i":112,"f":2.4,"m":0.5},{"i":113,"f":3.0,"m":0.6},{"i":114,"f":2.1,"m":0.9},{"i":115,"f":2.9,"m":0.8},{"i":116,"f":2.4,"m":0.5},{"i":117,"f":2.6,"m":0.2},{"i":118,"f":4.6,"m":2.0},{"i":119,"f":1.2,"m":3.4},{"i":120,"f":6.0,"m":4.8,"o":1,"q":1},{"i":121,"f":1.3,"m":4.7,"q":1},{"i":122,"f":1.3,"m":0.0},{"i":123,"f":2.3,"m":1.0},{"i":124,"f":1.9,"m":0.4},{"i":125,"f":2.4,"m":0.5},{"i":126,"f":1.8,"m":0.6},{"i":127,"f":1.6,"m":0.2},{"i":128,"f":2.5,"m":0.9},{"i":129,"f":2.1,"m":0.4},{"i":130,"f":3.5,"m":1.4},{"i":131,"f":1.3,"m":2.2},{"i":132,"f":4.9,"m":3.6},{"i":133,"f":1.5,"m":3.4},{"i":134,"f":3.5,"m":2.0},{"i":135,"f":3.8,"m":0.3},{"i":136,"f":3.0,"m":0.8},{"i":137,"f":1.9,"m":1.1},{"i":138,"f":3.2,"m":1.3},{"i":139,"f":3.8,"m":0.6},{"i":140,"f":3.9,"m":0.1},{"i":141,"f":3.3,"m":0.6},{"i":142,"f":3.8,"m":0.5},{"i":143,"f":4.0,"m":0.2},{"i":144,"f":2.8,"m":1.2},
{"i":145,"f":2.2},{"i":146,"f":2.0,"m":0.2},{"i":147,"f":1.2,"m":0.8},{"i":148,"f":3.8,"m":2.6},{"i":149,"f":1.2,"m":2.6},{"i":150,"f":1.0,"m":0.2},{"i":151,"f":0.7,"m":0.3},{"i":152,"f":1.8,"m":1.1},{"i":153,"f":1.2,"m":0.6},{"i":154,"f":1.9,"m":0.7},{"i":155,"f":3.9,"m":2.0},{"i":156,"f":2.7,"m":1.2},{"i":157,"f":1.2,"m":1.5},{"i":158,"f":3.7,"m":2.5},{"i":159,"f":2.1,"m":1.6},{"i":160,"f":2.7,"m":0.6},{"i":161,"f":3.6,"m":0.9},{"i":162,"f":3.6,"m":0.0},{"i":163,"f":1.7,"m":1.9},{"i":164,"f":2.0,"m":0.3},{"i":165,"f":2.9,"m":0.9},{"i":166,"f":1.1,"m":1.8},{"i":167,"f":2.2,"m":1.1},{"i":168,"f":1.7,"m":0.5},{"i":169,"f":2.1,"m":0.4},{"i":170,"f":3.6,"m":1.5},{"i":171,"f":2.0,"m":1.6},{"i":172,"f":1.9,"m":0.1},{"i":173,"f":1.2,"m":0.7},{"i":174,"f":1.0,"m":0.2},{"i":175,"f":1.8,"m":0.8},{"i":176,"f":1.6,"m":0.2},{"i":177,"f":1.5,"m":0.1},{"i":178,"f":1.8,"m":0.3},{"i":179,"f":1.7,"m":0.1},{"i":180,"f":1.6,"m":0.1},
{"i":181,"f":1.6},{"i":182,"f":5.3,"m":3.7},{"i":183,"f":5.8,"m":0.5},{"i":184,"f":5.6,"m":0.2},{"i":185,"f":3.4,"m":2.2},{"i":186,"f":4.0,"m":0.6},{"i":187,"f":3.8,"m":0.2},{"i":188,"f":2.5,"m":1.3},{"i":189,"f":3.5,"m":1.0},{"i":190,"f":2.4,"m":1.1},{"i":191,"f":5.2,"m":2.8},{"i":192,"f":3.2,"m":2.0},{"i":193,"f":4.0,"m":0.8},{"i":194,"f":1.8,"m":2.2},{"i":195,"f":3.2,"m":1.4},{"i":196,"f":1.3,"m":1.9},{"i":197,"f":2.5,"m":1.2},{"i":198,"f":3.0,"m":0.5},{"i":199,"f":1.4,"m":1.6},{"i":200,"f":2.3,"m":0.9},{"i":201,"f":2.6,"m":0.3},{"i":202,"f":1.9,"m":0.7},{"i":203,"f":2.6,"m":0.7},{"i":204,"f":1.5,"m":1.1},{"i":205,"f":4.4,"m":2.9},{"i":206,"f":1.3,"m":3.1},{"i":207,"f":1.8,"m":0.5},{"i":208,"f":2.4,"m":0.6},{"i":209,"f":2.1,"m":0.3},{"i":210,"f":2.5,"m":0.4},{"i":211,"f":2.6,"m":0.1},{"i":212,"f":2.0,"m":0.6},{"i":213,"f":5.5,"m":3.5},{"i":214,"f":4.0,"m":1.5},{"i":215,"f":3.4,"m":0.6},{"i":216,"f":2.6,"m":0.8},
{"i":217,"f":2.0},{"i":218,"f":2.2,"m":0.2},{"i":219,"f":3.1,"m":0.9},{"i":220,"f":3.6,"m":0.5},{"i":221,"f":4.2,"m":0.6},{"i":222,"f":2.4,"m":1.8},{"i":223,"f":3.2,"m":0.8},{"i":224,"f":2.3,"m":0.9},{"i":225,"f":1.8,"m":0.5},{"i":226,"f":3.5,"m":1.7},{"i":227,"f":3.0,"m":0.5},{"i":228,"f":2.6,"m":0.4},{"i":229,"f":1.9,"m":0.7},{"i":230,"f":2.7,"m":0.8},{"i":231,"f":2.2,"m":0.5},{"i":232,"f":1.2,"m":1.0},{"i":233,"f":1.2,"m":0.0},{"i":234,"f":2.5,"m":1.3},{"i":235,"f":1.1,"m":1.4},{"i":236,"f":1.1,"m":0.0},{"i":237,"f":1.2,"m":0.1},{"i":238,"f":1.3,"m":0.1},{"i":239,"f":3.8,"m":2.5},{"i":240,"f":1.3,"m":2.5},{"i":241,"f":1.2,"m":0.1},{"i":242,"f":2.9,"m":1.7},{"i":243,"f":1.3,"m":1.6},{"i":244,"f":2.9,"m":1.6},{"i":245,"f":1.3,"m":1.6},{"i":246,"f":6.6,"m":5.3,"o":1,"q":1},{"i":247,"f":5.3,"m":1.3},{"i":248,"f":1.4,"m":3.9},{"i":249,"f":4.3,"m":2.9},{"i":250,"f":1.2,"m":3.1},{"i":251,"f":1.5,"m":0.3},{"i":252,"f":2.6,"m":1.1},
{"i":253,"f":3.6},{"i":254,"f":1.3,"m":2.3},{"i":255,"f":3.4,"m":2.1},{"i":256,"f":2.1,"m":1.3},{"i":257,"f":1.2,"m":0.9},{"i":258,"f":2.1,"m":0.9},{"i":259,"f":2.3,"m":0.2},{"i":260,"f":1.6,"m":0.7},{"i":261,"f":2.0,"m":0.4},{"i":262,"f":1.2,"m":0.8},{"i":263,"f":1.4,"m":0.2},{"i":264,"f":1.1,"m":0.3},{"i":265,"f":1.4,"m":0.3},{"i":266,"f":1.2,"m":0.2},{"i":267,"f":1.8,"m":0.6},{"i":268,"f":2.6,"m":0.8},{"i":269,"f":2.7,"m":0.1},{"i":270,"f":1.9,"m":0.8},{"i":271,"f":4.3,"m":2.4},{"i":272,"f":4.1,"m":0.2},{"i":273,"f":2.7,"m":1.4},{"i":274,"f":6.6,"m":3.9,"o":1,"q":1},{"i":275,"f":2.0,"m":4.6,"q":1},{"i":276,"f":4.0,"m":2.0},{"i":277,"f":2.2,"m":1.8},{"i":278,"f":2.4,"m":0.2},{"i":279,"f":1.9,"m":0.5},{"i":280,"f":3.3,"m":1.4},{"i":281,"f":1.7,"m":1.6},{"i":282,"f":2.7,"m":1.0},{"i":283,"f":1.8,"m":0.9},{"i":284,"f":4.3,"m":2.5},{"i":285,"f":4.6,"m":0.3},{"i":286,"f":2.0,"m":2.6},{"i":287,"f":1.7,"m":0.3},{"i":288,"f":1.8,"m":0.1},
{"i":289,"f":2.5},{"i":290,"f":3.3,"m":0.8},{"i":291,"f":1.3,"m":2.0},{"i":292,"f":2.4,"m":1.1},{"i":293,"f":1.3,"m":1.1},{"i":294,"f":1.1,"m":0.2},{"i":295,"f":2.8,"m":1.7},{"i":296,"f":1.9,"m":0.9},{"i":297,"f":2.8,"m":0.9},{"i":298,"f":2.3,"m":0.5},{"i":299,"f":4.0,"m":1.7,"o":1},{"i":300,"f":2.1,"m":1.9},{"i":301,"f":2.2,"m":0.1},{"i":302,"f":2.1,"m":0.1},{"i":303,"f":2.4,"m":0.3},{"i":304,"f":1.2,"m":1.2},{"i":305,"f":2.3,"m":1.1},{"i":306,"f":2.2,"m":0.1},{"i":307,"f":2.1,"m":0.1},{"i":308,"f":2.0,"m":0.1},{"i":309,"f":2.7,"m":0.7},{"i":310,"f":2.5,"m":0.2},{"i":311,"f":1.3,"m":1.2},{"i":312,"f":1.4,"m":0.1},{"i":313,"f":1.6,"m":0.2},{"i":314,"f":1.5,"m":0.1},{"i":315,"f":2.6,"m":1.1},{"i":316,"f":1.2,"m":1.4},{"i":317,"f":1.3,"m":0.1},{"i":318,"f":1.7,"m":0.4},{"i":319,"f":1.5,"m":0.2},{"i":320,"f":1.3,"m":0.2},{"i":321,"f":1.1,"m":0.2},{"i":322,"f":1.8,"m":0.7},{"i":323,"f":2.1,"m":0.3},{"i":324,"f":1.6,"m":0.5},
{"i":325,"f":1.6},{"i":326,"f":1.9,"m":0.3},{"i":327,"f":3.0,"m":1.1},{"i":328,"f":1.5,"m":1.5},{"i":329,"f":1.4,"m":0.1},{"i":330,"f":2.0,"m":0.6},{"i":331,"f":1.8,"m":0.2},{"i":332,"f":1.5,"m":0.3},{"i":333,"f":2.1,"m":0.6},{"i":334,"f":1.5,"m":0.6},{"i":335,"f":2.6,"m":1.1},{"i":336,"f":2.1,"m":0.5},{"i":337,"f":2.4,"m":0.3},{"i":338,"f":2.0,"m":0.4},{"i":339,"f":2.6,"m":0.6},{"i":340,"f":3.0,"m":0.4},{"i":341,"f":4.8,"m":1.8,"o":1},{"i":342,"f":3.1,"m":1.7},{"i":343,"f":2.4,"m":0.7},{"i":344,"f":3.2,"m":0.8},{"i":345,"f":1.7,"m":1.5},{"i":346,"f":2.0,"m":0.3},{"i":347,"f":1.3,"m":0.7},{"i":348,"f":1.6,"m":0.3},{"i":349,"f":1.2,"m":0.4},{"i":350,"f":2.2,"m":1.0},{"i":351,"f":1.1,"m":1.1},{"i":352,"f":1.5,"m":0.4},{"i":353,"f":2.9,"m":1.4},{"i":354,"f":1.3,"m":1.6},{"i":355,"f":1.6,"m":0.3},{"i":356,"f":3.0,"m":1.4},{"i":357,"f":1.4,"m":1.6},{"i":358,"f":1.6,"m":0.2},{"i":359,"f":2.0,"m":0.4},{"i":360,"f":1.5,"m":0.5}
],
"D":[
{"i":1,"f":2.9,"o":1},{"i":2,"f":1.3,"m":1.6},{"i":3,"f":0.2,"m":1.1},{"i":4,"f":0.1,"m":0.1},{"i":5,"f":0.2,"m":0.1},{"i":6,"f":0.5,"m":0.3},{"i":7,"f":0.9,"m":0.4},{"i":8,"f":0.4,"m":0.5},{"i":9,"f":1.0,"m":0.6},{"i":10,"f":0.5,"m":0.5},{"i":11,"f":0.9,"m":0.4},{"i":12,"f":1.2,"m":0.3},{"i":13,"f":0.9,"m":0.3},{"i":14,"f":0.5,"m":0.4},{"i":15,"f":1.8,"m":1.3},{"i":16,"f":0.6,"m":1.2},{"i":17,"f":0.9,"m":0.3},{"i":18,"f":0.7,"m":0.2},{"i":19,"f":0.8,"m":0.1},{"i":20,"f":1.7,"m":0.9},{"i":21,"f":1.0,"m":0.7},{"i":22,"f":0.6,"m":0.4},{"i":23,"f":0.7,"m":0.1},{"i":24,"f":1.8,"m":1.1},{"i":25,"f":0.6,"m":1.2},{"i":26,"f":0.8,"m":0.2},{"i":27,"f":0.6,"m":0.2},{"i":28,"f":0.9,"m":0.3},{"i":29,"f":0.2,"m":0.7},{"i":30,"f":0.7,"m":0.5},{"i":31,"f":0.4,"m":0.3},{"i":32,"f":0.3,"m":0.1},{"i":33,"f":0.5,"m":0.2},{"i":34,"f":0.4,"m":0.1},{"i":35,"f":0.6,"m":0.2},{"i":36,"f":0.5,"m":0.1},
{"i":37,"f":0.1},{"i":38,"f":0.3,"m":0.2},{"i":39,"f":0.7,"m":0.4},{"i":40,"f":0.2,"m":0.5},{"i":41,"f":0.4,"m":0.2},{"i":42,"f":0.9,"m":0.5},{"i":43,"f":0.5,"m":0.4},{"i":44,"f":0.3,"m":0.2},{"i":45,"f":0.6,"m":0.3},{"i":46,"f":0.2,"m":0.4},{"i":47,"f":0.7,"m":0.5},{"i":48,"f":1.0,"m":0.3},{"i":49,"f":0.1,"m":0.9},{"i":50,"f":1.5,"m":1.4,"q":1},{"i":51,"f":0.4,"m":1.1},{"i":52,"f":1.4,"m":1.0},{"i":53,"f":0.5,"m":0.9},{"i":54,"f":1.3,"m":0.8},{"i":55,"f":1.0,"m":0.3},{"i":56,"f":0.7,"m":0.3},{"i":57,"f":0.3,"m":0.4},{"i":58,"f":0.6,"m":0.3},{"i":59,"f":0.5,"m":0.1},{"i":60,"f":0.4,"m":0.1},{"i":61,"f":0.2,"m":0.2},{"i":62,"f":0.6,"m":0.4},{"i":63,"f":0.3,"m":0.3},{"i":64,"f":0.1,"m":0.2},{"i":65,"f":0.5,"m":0.4},{"i":66,"f":0.7,"m":0.2},{"i":67,"f":0.3,"m":0.4},{"i":68,"f":0.5,"m":0.2},{"i":69,"f":0.2,"m":0.3},{"i":70,"f":0.3,"m":0.1},{"i":71,"f":0.8,"m":0.5},{"i":72,"f":0.5,"m":0.3},
{"i":73,"f":0.4},{"i":74,"f":0.2,"m":0.2},{"i":75,"f":0.3,"m":0.1},{"i":76,"f":0.6,"m":0.3},{"i":77,"f":0.3,"m":0.3},{"i":78,"f":0.5,"m":0.2},{"i":79,"f":0.7,"m":0.2},{"i":80,"f":0.2,"m":0.5},{"i":81,"f":0.4,"m":0.2},{"i":82,"f":0.8,"m":0.4},{"i":83,"f":0.3,"m":0.5},{"i":84,"f":0.5,"m":0.2},{"i":85,"f":0.9,"m":0.4},{"i":86,"f":0.3,"m":0.6},{"i":87,"f":0.6,"m":0.3},{"i":88,"f":0.4,"m":0.2},{"i":89,"f":0.5,"m":0.1},{"i":90,"f":0.8,"m":0.3},{"i":91,"f":0.3,"m":0.5},{"i":92,"f":0.5,"m":0.2},{"i":93,"f":0.6,"m":0.1},{"i":94,"f":0.2,"m":0.4},{"i":95,"f":0.4,"m":0.2},{"i":96,"f":0.7,"m":0.3},{"i":97,"f":0.9,"m":0.2},{"i":98,"f":0.6,"m":0.3},{"i":99,"f":0.5,"m":0.1},{"i":100,"f":0.2,"m":0.3},{"i":101,"f":2.4,"m":2.2,"o":1,"q":1},{"i":102,"f":0.8,"m":1.6,"q":1},{"i":103,"f":0.6,"m":0.2},{"i":104,"f":0.5,"m":0.1},{"i":105,"f":0.7,"m":0.2},{"i":106,"f":0.4,"m":0.3},{"i":107,"f":0.6,"m":0.2},{"i":108,"f":0.5,"m":0.1},
{"i":109,"f":0.6},{"i":110,"f":0.7,"m":0.1},{"i":111,"f":0.6,"m":0.1},{"i":112,"f":0.4,"m":0.2},{"i":113,"f":0.7,"m":0.3},{"i":114,"f":0.8,"m":0.1},{"i":115,"f":0.6,"m":0.2},{"i":116,"f":0.3,"m":0.3},{"i":117,"f":0.8,"m":0.5},{"i":118,"f":0.7,"m":0.1},{"i":119,"f":0.9,"m":0.2},{"i":120,"f":1.3,"m":0.4},{"i":121,"f":0.6,"m":0.7},{"i":122,"f":0.4,"m":0.2},{"i":123,"f":0.8,"m":0.4},{"i":124,"f":0.2,"m":0.6},{"i":125,"f":0.6,"m":0.4},{"i":126,"f":0.5,"m":0.1},{"i":127,"f":0.9,"m":0.4},{"i":128,"f":0.5,"m":0.4},{"i":129,"f":0.8,"m":0.3},{"i":130,"f":0.4,"m":0.4},{"i":131,"f":0.7,"m":0.3},{"i":132,"f":0.8,"m":0.1},{"i":133,"f":1.9,"m":1.1,"o":1,"q":1},{"i":134,"f":1.2,"m":0.7},{"i":135,"f":0.8,"m":0.4},{"i":136,"f":0.4,"m":0.4},{"i":137,"f":0.7,"m":0.3},{"i":138,"f":0.6,"m":0.1},{"i":139,"f":0.3,"m":0.3},{"i":140,"f":0.5,"m":0.2},{"i":141,"f":0.7,"m":0.2},{"i":142,"f":0.4,"m":0.3},{"i":143,"f":0.6,"m":0.2},{"i":144,"f":0.5,"m":0.1},
{"i":145,"f":0.3},{"i":146,"f":0.5,"m":0.2},{"i":147,"f":0.2,"m":0.3},{"i":148,"f":0.6,"m":0.4},{"i":149,"f":0.4,"m":0.2},{"i":150,"f":0.3,"m":0.1},{"i":151,"f":0.5,"m":0.2},{"i":152,"f":0.3,"m":0.2},{"i":153,"f":0.4,"m":0.1},{"i":154,"f":0.6,"m":0.2},{"i":155,"f":0.2,"m":0.4},{"i":156,"f":0.4,"m":0.2},{"i":157,"f":0.9,"m":0.5},{"i":158,"f":0.3,"m":0.6},{"i":159,"f":0.5,"m":0.2},{"i":160,"f":0.4,"m":0.1},{"i":161,"f":0.2,"m":0.2},{"i":162,"f":0.6,"m":0.4},{"i":163,"f":0.4,"m":0.2},{"i":164,"f":0.5,"m":0.1},{"i":165,"f":0.3,"m":0.2},{"i":166,"f":0.7,"m":0.4},{"i":167,"f":0.3,"m":0.4},{"i":168,"f":0.5,"m":0.2},{"i":169,"f":0.4,"m":0.1},{"i":170,"f":0.6,"m":0.2},{"i":171,"f":1.1,"m":0.5},{"i":172,"f":0.4,"m":0.7},{"i":173,"f":0.5,"m":0.1},{"i":174,"f":0.2,"m":0.3},{"i":175,"f":0.4,"m":0.2},{"i":176,"f":0.6,"m":0.2},{"i":177,"f":0.3,"m":0.3},{"i":178,"f":0.5,"m":0.2},{"i":179,"f":0.4,"m":0.1},{"i":180,"f":0.3,"m":0.1},
{"i":181,"f":1.9},{"i":182,"f":1.7,"m":0.2},{"i":183,"f":1.6,"m":0.1},{"i":184,"f":1.8,"m":0.2},{"i":185,"f":0.4,"m":1.4},{"i":186,"f":0.3,"m":0.1},{"i":187,"f":0.9,"m":0.6},{"i":188,"f":0.5,"m":0.4},{"i":189,"f":0.4,"m":0.1},{"i":190,"f":0.8,"m":0.4},{"i":191,"f":1.0,"m":0.2},{"i":192,"f":0.6,"m":0.4},{"i":193,"f":1.1,"m":0.5},{"i":194,"f":0.9,"m":0.2},{"i":195,"f":0.4,"m":0.5},{"i":196,"f":2.0,"m":1.6},{"i":197,"f":0.4,"m":1.6},{"i":198,"f":0.8,"m":0.4},{"i":199,"f":1.0,"m":0.2},{"i":200,"f":0.6,"m":0.4},{"i":201,"f":1.5,"m":0.9},{"i":202,"f":0.9,"m":0.6},{"i":203,"f":0.7,"m":0.2},{"i":204,"f":1.2,"m":0.5},{"i":205,"f":2.5,"m":1.3,"o":1},{"i":206,"f":0.9,"m":1.6},{"i":207,"f":0.8,"m":0.1},{"i":208,"f":1.5,"m":0.7},{"i":209,"f":1.0,"m":0.5},{"i":210,"f":0.4,"m":0.6},{"i":211,"f":0.6,"m":0.2},{"i":212,"f":0.5,"m":0.1},{"i":213,"f":0.7,"m":0.2},{"i":214,"f":0.5,"m":0.2},{"i":215,"f":0.4,"m":0.1},{"i":216,"f":0.6,"m":0.2},
{"i":217,"f":0.9},{"i":218,"f":0.6,"m":0.3},{"i":219,"f":0.5,"m":0.1},{"i":220,"f":1.0,"m":0.5},{"i":221,"f":0.5,"m":0.5},{"i":222,"f":0.8,"m":0.3},{"i":223,"f":0.6,"m":0.2},{"i":224,"f":0.4,"m":0.2},{"i":225,"f":0.7,"m":0.3},{"i":226,"f":0.9,"m":0.2},{"i":227,"f":0.3,"m":0.6},{"i":228,"f":0.6,"m":0.3},{"i":229,"f":1.1,"m":0.5},{"i":230,"f":0.5,"m":0.6},{"i":231,"f":0.7,"m":0.2},{"i":232,"f":0.4,"m":0.3},{"i":233,"f":0.8,"m":0.4},{"i":234,"f":0.3,"m":0.5},{"i":235,"f":0.5,"m":0.2},{"i":236,"f":1.0,"m":0.5},{"i":237,"f":1.4,"m":0.4},{"i":238,"f":0.5,"m":0.9},{"i":239,"f":0.8,"m":0.3},{"i":240,"f":2.0,"m":1.2,"o":1},{"i":241,"f":0.9,"m":1.1},{"i":242,"f":0.6,"m":0.3},{"i":243,"f":0.4,"m":0.2},{"i":244,"f":0.7,"m":0.3},{"i":245,"f":0.3,"m":0.4},{"i":246,"f":0.9,"m":0.6},{"i":247,"f":0.6,"m":0.3},{"i":248,"f":0.7,"m":0.1},{"i":249,"f":1.0,"m":0.3},{"i":250,"f":1.5,"m":0.5},{"i":251,"f":1.6,"m":0.1},{"i":252,"f":2.0,"m":0.4,"o":1},
{"i":253,"f":0.5},{"i":254,"f":0.7,"m":0.2},{"i":255,"f":0.4,"m":0.3},{"i":256,"f":0.6,"m":0.2},{"i":257,"f":0.3,"m":0.3},{"i":258,"f":0.5,"m":0.2},{"i":259,"f":0.7,"m":0.2},{"i":260,"f":0.4,"m":0.3},{"i":261,"f":0.6,"m":0.2},{"i":262,"f":0.3,"m":0.3},{"i":263,"f":0.5,"m":0.2},{"i":264,"f":0.7,"m":0.2},{"i":265,"f":0.4,"m":0.3},{"i":266,"f":0.6,"m":0.2},{"i":267,"f":0.3,"m":0.3},{"i":268,"f":0.5,"m":0.2},{"i":269,"f":0.6,"m":0.1},{"i":270,"f":0.4,"m":0.2},{"i":271,"f":0.7,"m":0.3},{"i":272,"f":2.0,"m":1.3,"o":1,"q":1},{"i":273,"f":1.6,"m":0.4,"o":1},{"i":274,"f":0.4,"m":1.2,"q":1},{"i":275,"f":0.6,"m":0.2},{"i":276,"f":0.3,"m":0.3},{"i":277,"f":0.5,"m":0.2},{"i":278,"f":0.8,"m":0.3},{"i":279,"f":0.6,"m":0.2},{"i":280,"f":0.4,"m":0.2},{"i":281,"f":0.5,"m":0.1},{"i":282,"f":0.7,"m":0.2},{"i":283,"f":0.9,"m":0.2},{"i":284,"f":0.8,"m":0.1},{"i":285,"f":0.9,"m":0.1},{"i":286,"f":0.6,"m":0.3},{"i":287,"f":0.5,"m":0.1},{"i":288,"f":0.8,"m":0.3},
{"i":289,"f":0.9},{"i":290,"f":0.5,"m":0.4},{"i":291,"f":0.3,"m":0.2},{"i":292,"f":0.6,"m":0.3},{"i":293,"f":0.8,"m":0.2},{"i":294,"f":0.2,"m":0.6},{"i":295,"f":0.5,"m":0.3},{"i":296,"f":0.7,"m":0.2},{"i":297,"f":0.4,"m":0.3},{"i":298,"f":0.3,"m":0.1},{"i":299,"f":0.6,"m":0.3},{"i":300,"f":0.4,"m":0.2},{"i":301,"f":0.8,"m":0.4},{"i":302,"f":0.5,"m":0.3},{"i":303,"f":0.3,"m":0.2},{"i":304,"f":0.6,"m":0.3},{"i":305,"f":1.1,"m":0.5},{"i":306,"f":0.4,"m":0.7},{"i":307,"f":0.7,"m":0.3},{"i":308,"f":0.3,"m":0.4},{"i":309,"f":0.6,"m":0.3},{"i":310,"f":0.9,"m":0.3},{"i":311,"f":0.5,"m":0.4},{"i":312,"f":0.4,"m":0.1},{"i":313,"f":0.8,"m":0.4},{"i":314,"f":0.6,"m":0.2},{"i":315,"f":0.8,"m":0.2},{"i":316,"f":1.7,"m":0.9,"o":1},{"i":317,"f":1.2,"m":0.5},{"i":318,"f":0.5,"m":0.7},{"i":319,"f":0.8,"m":0.3},{"i":320,"f":0.6,"m":0.2},{"i":321,"f":1.0,"m":0.4},{"i":322,"f":0.5,"m":0.5},{"i":323,"f":0.7,"m":0.2},{"i":324,"f":0.9,"m":0.2},
{"i":325,"f":1.0},{"i":326,"f":0.9,"m":0.1},{"i":327,"f":0.5,"m":0.4},{"i":328,"f":0.9,"m":0.4},{"i":329,"f":0.7,"m":0.2},{"i":330,"f":1.3,"m":0.6},{"i":331,"f":0.4,"m":0.9},{"i":332,"f":0.8,"m":0.4},{"i":333,"f":0.3,"m":0.5},{"i":334,"f":0.6,"m":0.3},{"i":335,"f":0.9,"m":0.3},{"i":336,"f":0.5,"m":0.4},{"i":337,"f":0.7,"m":0.2},{"i":338,"f":0.3,"m":0.4},{"i":339,"f":0.8,"m":0.5},{"i":340,"f":0.4,"m":0.4},{"i":341,"f":0.6,"m":0.2},{"i":342,"f":0.9,"m":0.3},{"i":343,"f":0.5,"m":0.4},{"i":344,"f":0.7,"m":0.2},{"i":345,"f":0.4,"m":0.3},{"i":346,"f":0.8,"m":0.4},{"i":347,"f":0.6,"m":0.2},{"i":348,"f":0.3,"m":0.3},{"i":349,"f":0.7,"m":0.4},{"i":350,"f":0.5,"m":0.2},{"i":351,"f":0.8,"m":0.3},{"i":352,"f":0.4,"m":0.4},{"i":353,"f":0.6,"m":0.2},{"i":354,"f":0.7,"m":0.1},{"i":355,"f":0.3,"m":0.4},{"i":356,"f":0.5,"m":0.2},{"i":357,"f":0.6,"m":0.1},{"i":358,"f":0.4,"m":0.2},{"i":359,"f":0.5,"m":0.1},{"i":360,"f":0.3,"m":0.2}
]
},
"spacing":63,
"vconcat":[
{"spacing":24,"hconcat":[
{"title":{"text":"A) Verde","frame":"bounds","offset":0},"spacing":5,"vconcat":[
 {"width":683,"height":36,"view":{"stroke":null},"data":{"name":"hdr"},"mark":{"type":"text","fontSize":13.5,"color":"#222"},"encoding":{"x":{"field":"i","type":"quantitative","scale":{"domain":[-2.2,364],"nice":false,"zero":false},"axis":null},"y":{"field":"r","type":"nominal","scale":{"type":"point","domain":["p","s"],"padding":0.5},"axis":null},"text":{"field":"t"}}},
 {"spacing":10,"vconcat":[
  {"width":683,"height":181,"resolve":{"axis":{"y":"independent"}},
   "encoding":{"x":{"field":"i","type":"quantitative","scale":{"domain":[-2.2,364],"nice":false,"zero":false},"axis":{"values":[1,13,25,37,49,61,73,85,97,109,121,133,145,157,169,181,193,205,217,229,241,253,265,277,289,301,313,325,337,349],"labels":false,"tickSize":5,"title":null}}},
   "layer":[
    {"data":{"name":"sep"},"mark":{"type":"rule","color":"#8066b0","strokeDash":[5,3],"strokeWidth":1},"encoding":{}},
    {"data":{"name":"lim"},"transform":[{"filter":"datum.p=='A'"},{"fold":["u","c","l"]}],"mark":{"type":"rule","strokeWidth":1.3},"encoding":{"x2":{"field":"j"},"y":{"field":"value","type":"quantitative","scale":{"domain":[-0.6,11.6],"nice":false,"zero":false},"axis":{"orient":"right","values":[6.75,3.55,0.35],"labelExpr":"datum.value==6.75?'LSC':datum.value==3.55?'x̄':'LIC'","ticks":false,"title":null,"labelPadding":7,"labelOverlap":false,"labelFontSize":11.5}},"color":{"field":"key","type":"nominal","scale":{"domain":["u","c","l"],"range":["#c57a88","#74bf98","#c57a88"]},"legend":null}}},
    {"data":{"name":"A"},"mark":{"type":"line","color":"#57a3c7","strokeWidth":0.8},"encoding":{"y":{"field":"f","type":"quantitative","scale":{"domain":[-0.6,11.6],"nice":false,"zero":false},"axis":{"orient":"left","values":[0,1,2,3,4,5,6,7,8,9,10,11],"title":"Força de desprendimento (N)","tickSize":5,"titlePadding":8}}}},
    {"data":{"name":"A"},"mark":{"type":"circle","color":"#1d5b9d","size":16,"opacity":1},"encoding":{"y":{"field":"f","type":"quantitative","axis":null}}},
    {"data":{"name":"A"},"transform":[{"filter":"datum.o==1"}],"mark":{"type":"square","color":"#d0161b","size":28,"opacity":1},"encoding":{"y":{"field":"f","type":"quantitative","axis":null}}},
    {"data":{"name":"A"},"transform":[{"filter":"datum.o==1"}],"mark":{"type":"text","text":"1","dy":-8,"fontSize":9.5,"color":"#555","clip":true},"encoding":{"y":{"field":"f","type":"quantitative","axis":null}}}
   ]},
  {"width":683,"height":185,"resolve":{"axis":{"y":"independent"}},
   "encoding":{"x":{"field":"i","type":"quantitative","scale":{"domain":[-2.2,364],"nice":false,"zero":false},"axis":{"values":[1,13,25,37,49,61,73,85,97,109,121,133,145,157,169,181,193,205,217,229,241,253,265,277,289,301,313,325,337,349],"labelOverlap":false,"tickSize":5,"labelPadding":2,"title":"Observação","titlePadding":4}}},
   "layer":[
    {"data":{"name":"sep"},"mark":{"type":"rule","color":"#8066b0","strokeDash":[5,3],"strokeWidth":1},"encoding":{}},
    {"data":{"name":"lim"},"transform":[{"filter":"datum.p=='A'"},{"fold":["mu","mc","ml"]}],"mark":{"type":"rule","strokeWidth":1.3},"encoding":{"x2":{"field":"j"},"y":{"field":"value","type":"quantitative","scale":{"domain":[-0.45,9.65],"nice":false,"zero":false},"axis":{"orient":"right","values":[3.95,1.4,0],"labelExpr":"datum.value==3.95?'LSC':datum.value==1.4?'A̅M̅':'LIC'","ticks":false,"title":null,"labelPadding":7,"labelOverlap":false,"labelFontSize":11.5}},"color":{"field":"key","type":"nominal","scale":{"domain":["mu","mc","ml"],"range":["#c57a88","#74bf98","#9aa8a0"]},"legend":null}}},
    {"data":{"name":"A"},"mark":{"type":"line","color":"#57a3c7","strokeWidth":0.8},"encoding":{"y":{"field":"m","type":"quantitative","scale":{"domain":[-0.45,9.65],"nice":false,"zero":false},"axis":{"orient":"left","values":[0,1,2,3,4,5,6,7,8,9],"title":"Amplitude móvel","tickSize":5,"titlePadding":8}}}},
    {"data":{"name":"A"},"mark":{"type":"circle","color":"#1d5b9d","size":16,"opacity":1},"encoding":{"y":{"field":"m","type":"quantitative","axis":null}}},
    {"data":{"name":"A"},"transform":[{"filter":"datum.q==1"}],"mark":{"type":"square","color":"#d0161b","size":28,"opacity":1},"encoding":{"y":{"field":"m","type":"quantitative","axis":null}}},
    {"data":{"name":"A"},"transform":[{"filter":"datum.q==1"}],"mark":{"type":"text","text":"1","dy":-8,"fontSize":9.5,"color":"#555","clip":true},"encoding":{"y":{"field":"m","type":"quantitative","axis":null}}}
   ]}
 ]}
]},
{"title":{"text":"B) Verde cana","frame":"bounds","offset":0},"spacing":5,"vconcat":[
 {"width":683,"height":36,"view":{"stroke":null},"data":{"name":"hdr"},"mark":{"type":"text","fontSize":13.5,"color":"#222"},"encoding":{"x":{"field":"i","type":"quantitative","scale":{"domain":[-2.2,364],"nice":false,"zero":false},"axis":null},"y":{"field":"r","type":"nominal","scale":{"type":"point","domain":["p","s"],"padding":0.5},"axis":null},"text":{"field":"t"}}},
 {"spacing":10,"vconcat":[
  {"width":683,"height":181,"resolve":{"axis":{"y":"independent"}},
   "encoding":{"x":{"field":"i","type":"quantitative","scale":{"domain":[-2.2,364],"nice":false,"zero":false},"axis":{"values":[1,13,25,37,49,61,73,85,97,109,121,133,145,157,169,181,193,205,217,229,241,253,265,277,289,301,313,325,337,349],"labels":false,"tickSize":5,"title":null}}},
   "layer":[
    {"data":{"name":"sep"},"mark":{"type":"rule","color":"#8066b0","strokeDash":[5,3],"strokeWidth":1},"encoding":{}},
    {"data":{"name":"lim"},"transform":[{"filter":"datum.p=='B'"},{"fold":["u","c","l"]}],"mark":{"type":"rule","strokeWidth":1.3},"encoding":{"x2":{"field":"j"},"y":{"field":"value","type":"quantitative","scale":{"domain":[-0.6,11.6],"nice":false,"zero":false},"axis":{"orient":"right","values":[5.6,2.75,0],"labelExpr":"datum.value==5.6?'LSC':datum.value==2.75?'x̄':'LIC'","ticks":false,"title":null,"labelPadding":7,"labelOverlap":false,"labelFontSize":11.5}},"color":{"field":"key","type":"nominal","scale":{"domain":["u","c","l"],"range":["#c57a88","#74bf98","#c57a88"]},"legend":null}}},
    {"data":{"name":"B"},"mark":{"type":"line","color":"#57a3c7","strokeWidth":0.8},"encoding":{"y":{"field":"f","type":"quantitative","scale":{"domain":[-0.6,11.6],"nice":false,"zero":false},"axis":{"orient":"left","values":[0,1,2,3,4,5,6,7,8,9,10,11],"title":"Força de desprendimento (N)","tickSize":5,"titlePadding":8}}}},
    {"data":{"name":"B"},"mark":{"type":"circle","color":"#1d5b9d","size":16,"opacity":1},"encoding":{"y":{"field":"f","type":"quantitative","axis":null}}},
    {"data":{"name":"B"},"transform":[{"filter":"datum.o==1"}],"mark":{"type":"square","color":"#d0161b","size":28,"opacity":1},"encoding":{"y":{"field":"f","type":"quantitative","axis":null}}},
    {"data":{"name":"B"},"transform":[{"filter":"datum.o==1"}],"mark":{"type":"text","text":"1","dy":-8,"fontSize":9.5,"color":"#555","clip":true},"encoding":{"y":{"field":"f","type":"quantitative","axis":null}}}
   ]},
  {"width":683,"height":185,"resolve":{"axis":{"y":"independent"}},
   "encoding":{"x":{"field":"i","type":"quantitative","scale":{"domain":[-2.2,364],"nice":false,"zero":false},"axis":{"values":[1,13,25,37,49,61,73,85,97,109,121,133,145,157,169,181,193,205,217,229,241,253,265,277,289,301,313,325,337,349],"labelOverlap":false,"tickSize":5,"labelPadding":2,"title":"Observação","titlePadding":4}}},
   "layer":[
    {"data":{"name":"sep"},"mark":{"type":"rule","color":"#8066b0","strokeDash":[5,3],"strokeWidth":1},"encoding":{}},
    {"data":{"name":"lim"},"transform":[{"filter":"datum.p=='B'"},{"fold":["mu","mc","ml"]}],"mark":{"type":"rule","strokeWidth":1.3},"encoding":{"x2":{"field":"j"},"y":{"field":"value","type":"quantitative","scale":{"domain":[-0.45,9.65],"nice":false,"zero":false},"axis":{"orient":"right","values":[3.4,1.1,0],"labelExpr":"datum.value==3.4?'LSC':datum.value==1.1?'A̅M̅':'LIC'","ticks":false,"title":null,"labelPadding":7,"labelOverlap":false,"labelFontSize":11.5}},"color":{"field":"key","type":"nominal","scale":{"domain":["mu","mc","ml"],"range":["#c57a88","#74bf98","#9aa8a0"]},"legend":null}}},
    {"data":{"name":"B"},"mark":{"type":"line","color":"#57a3c7","strokeWidth":0.8},"encoding":{"y":{"field":"m","type":"quantitative","scale":{"domain":[-0.45,9.65],"nice":false,"zero":false},"axis":{"orient":"left","values":[0,1,2,3,4,5,6,7,8,9],"title":"Amplitude móvel","tickSize":5,"titlePadding":8}}}},
    {"data":{"name":"B"},"mark":{"type":"circle","color":"#1d5b9d","size":16,"opacity":1},"encoding":{"y":{"field":"m","type":"quantitative","axis":null}}},
    {"data":{"name":"B"},"transform":[{"filter":"datum.q==1"}],"mark":{"type":"square","color":"#d0161b","size":28,"opacity":1},"encoding":{"y":{"field":"m","type":"quantitative","axis":null}}},
    {"data":{"name":"B"},"transform":[{"filter":"datum.q==1"}],"mark":{"type":"text","text":"1","dy":-8,"fontSize":9.5,"color":"#555","clip":true},"encoding":{"y":{"field":"m","type":"quantitative","axis":null}}}
   ]}
 ]}
]}
]},
{"spacing":24,"hconcat":[
{"title":{"text":"C) Cereja","frame":"bounds","offset":0},"spacing":5,"vconcat":[
 {"width":683,"height":36,"view":{"stroke":null},"data":{"name":"hdr"},"mark":{"type":"text","fontSize":13.5,"color":"#222"},"encoding":{"x":{"field":"i","type":"quantitative","scale":{"domain":[-2.2,364],"nice":false,"zero":false},"axis":null},"y":{"field":"r","type":"nominal","scale":{"type":"point","domain":["p","s"],"padding":0.5},"axis":null},"text":{"field":"t"}}},
 {"spacing":10,"vconcat":[
  {"width":683,"height":181,"resolve":{"axis":{"y":"independent"}},
   "encoding":{"x":{"field":"i","type":"quantitative","scale":{"domain":[-2.2,364],"nice":false,"zero":false},"axis":{"values":[1,13,25,37,49,61,73,85,97,109,121,133,145,157,169,181,193,205,217,229,241,253,265,277,289,301,313,325,337,349],"labels":false,"tickSize":5,"title":null}}},
   "layer":[
    {"data":{"name":"sep"},"mark":{"type":"rule","color":"#8066b0","strokeDash":[5,3],"strokeWidth":1},"encoding":{}},
    {"data":{"name":"lim"},"transform":[{"filter":"datum.p=='C'"},{"fold":["u","c","l"]}],"mark":{"type":"rule","strokeWidth":1.3},"encoding":{"x2":{"field":"j"},"y":{"field":"value","type":"quantitative","scale":{"domain":[-0.6,11.6],"nice":false,"zero":false},"axis":{"orient":"right","values":[3.95,2.05,0.15],"labelExpr":"datum.value==3.95?'LSC':datum.value==2.05?'x̄':'LIC'","ticks":false,"title":null,"labelPadding":7,"labelOverlap":false,"labelFontSize":11.5}},"color":{"field":"key","type":"nominal","scale":{"domain":["u","c","l"],"range":["#c57a88","#74bf98","#c57a88"]},"legend":null}}},
    {"data":{"name":"C"},"mark":{"type":"line","color":"#57a3c7","strokeWidth":0.8},"encoding":{"y":{"field":"f","type":"quantitative","scale":{"domain":[-0.6,11.6],"nice":false,"zero":false},"axis":{"orient":"left","values":[0,1,2,3,4,5,6,7,8,9,10,11],"title":"Força de desprendimento (N)","tickSize":5,"titlePadding":8}}}},
    {"data":{"name":"C"},"mark":{"type":"circle","color":"#1d5b9d","size":16,"opacity":1},"encoding":{"y":{"field":"f","type":"quantitative","axis":null}}},
    {"data":{"name":"C"},"transform":[{"filter":"datum.o==1"}],"mark":{"type":"square","color":"#d0161b","size":28,"opacity":1},"encoding":{"y":{"field":"f","type":"quantitative","axis":null}}},
    {"data":{"name":"C"},"transform":[{"filter":"datum.o==1"}],"mark":{"type":"text","text":"1","dy":-8,"fontSize":9.5,"color":"#555","clip":true},"encoding":{"y":{"field":"f","type":"quantitative","axis":null}}}
   ]},
  {"width":683,"height":185,"resolve":{"axis":{"y":"independent"}},
   "encoding":{"x":{"field":"i","type":"quantitative","scale":{"domain":[-2.2,364],"nice":false,"zero":false},"axis":{"values":[1,13,25,37,49,61,73,85,97,109,121,133,145,157,169,181,193,205,217,229,241,253,265,277,289,301,313,325,337,349],"labelOverlap":false,"tickSize":5,"labelPadding":2,"title":"Observação","titlePadding":4}}},
   "layer":[
    {"data":{"name":"sep"},"mark":{"type":"rule","color":"#8066b0","strokeDash":[5,3],"strokeWidth":1},"encoding":{}},
    {"data":{"name":"lim"},"transform":[{"filter":"datum.p=='C'"},{"fold":["mu","mc","ml"]}],"mark":{"type":"rule","strokeWidth":1.3},"encoding":{"x2":{"field":"j"},"y":{"field":"value","type":"quantitative","scale":{"domain":[-0.45,9.65],"nice":false,"zero":false},"axis":{"orient":"right","values":[2.4,0.9,0],"labelExpr":"datum.value==2.4?'LSC':datum.value==0.9?'A̅M̅':'LIC'","ticks":false,"title":null,"labelPadding":7,"labelOverlap":false,"labelFontSize":11.5}},"color":{"field":"key","type":"nominal","scale":{"domain":["mu","mc","ml"],"range":["#c57a88","#74bf98","#9aa8a0"]},"legend":null}}},
    {"data":{"name":"C"},"mark":{"type":"line","color":"#57a3c7","strokeWidth":0.8},"encoding":{"y":{"field":"m","type":"quantitative","scale":{"domain":[-0.45,9.65],"nice":false,"zero":false},"axis":{"orient":"left","values":[0,1,2,3,4,5,6,7,8,9],"title":"Amplitude móvel","tickSize":5,"titlePadding":8}}}},
    {"data":{"name":"C"},"mark":{"type":"circle","color":"#1d5b9d","size":16,"opacity":1},"encoding":{"y":{"field":"m","type":"quantitative","axis":null}}},
    {"data":{"name":"C"},"transform":[{"filter":"datum.q==1"}],"mark":{"type":"square","color":"#d0161b","size":28,"opacity":1},"encoding":{"y":{"field":"m","type":"quantitative","axis":null}}},
    {"data":{"name":"C"},"transform":[{"filter":"datum.q==1"}],"mark":{"type":"text","text":"1","dy":-8,"fontSize":9.5,"color":"#555","clip":true},"encoding":{"y":{"field":"m","type":"quantitative","axis":null}}}
   ]}
 ]}
]},
{"title":{"text":"D) Seco","frame":"bounds","offset":0},"spacing":5,"vconcat":[
 {"width":683,"height":36,"view":{"stroke":null},"data":{"name":"hdr"},"mark":{"type":"text","fontSize":13.5,"color":"#222"},"encoding":{"x":{"field":"i","type":"quantitative","scale":{"domain":[-2.2,364],"nice":false,"zero":false},"axis":null},"y":{"field":"r","type":"nominal","scale":{"type":"point","domain":["p","s"],"padding":0.5},"axis":null},"text":{"field":"t"}}},
 {"spacing":10,"vconcat":[
  {"width":683,"height":181,"resolve":{"axis":{"y":"independent"}},
   "encoding":{"x":{"field":"i","type":"quantitative","scale":{"domain":[-2.2,364],"nice":false,"zero":false},"axis":{"values":[1,13,25,37,49,61,73,85,97,109,121,133,145,157,169,181,193,205,217,229,241,253,265,277,289,301,313,325,337,349],"labels":false,"tickSize":5,"title":null}}},
   "layer":[
    {"data":{"name":"sep"},"mark":{"type":"rule","color":"#8066b0","strokeDash":[5,3],"strokeWidth":1},"encoding":{}},
    {"data":{"name":"lim"},"transform":[{"filter":"datum.p=='D'"},{"fold":["u","c","l"]}],"mark":{"type":"rule","strokeWidth":1.3},"encoding":{"x2":{"field":"j"},"y":{"field":"value","type":"quantitative","scale":{"domain":[-0.6,11.6],"nice":false,"zero":false},"axis":{"orient":"right","values":[1.5,0.6,-0.1],"labelExpr":"datum.value==1.5?'LSC':datum.value==0.6?'x̄':'LIC'","ticks":false,"title":null,"labelPadding":7,"labelOverlap":false,"labelFontSize":11.5}},"color":{"field":"key","type":"nominal","scale":{"domain":["u","c","l"],"range":["#c57a88","#74bf98","#c57a88"]},"legend":null}}},
    {"data":{"name":"D"},"mark":{"type":"line","color":"#57a3c7","strokeWidth":0.8},"encoding":{"y":{"field":"f","type":"quantitative","scale":{"domain":[-0.6,11.6],"nice":false,"zero":false},"axis":{"orient":"left","values":[0,1,2,3,4,5,6,7,8,9,10,11],"title":"Força de desprendimento (N)","tickSize":5,"titlePadding":8}}}},
    {"data":{"name":"D"},"mark":{"type":"circle","color":"#1d5b9d","size":16,"opacity":1},"encoding":{"y":{"field":"f","type":"quantitative","axis":null}}},
    {"data":{"name":"D"},"transform":[{"filter":"datum.o==1"}],"mark":{"type":"square","color":"#d0161b","size":28,"opacity":1},"encoding":{"y":{"field":"f","type":"quantitative","axis":null}}},
    {"data":{"name":"D"},"transform":[{"filter":"datum.o==1"}],"mark":{"type":"text","text":"1","dy":-8,"fontSize":9.5,"color":"#555","clip":true},"encoding":{"y":{"field":"f","type":"quantitative","axis":null}}}
   ]},
  {"width":683,"height":185,"resolve":{"axis":{"y":"independent"}},
   "encoding":{"x":{"field":"i","type":"quantitative","scale":{"domain":[-2.2,364],"nice":false,"zero":false},"axis":{"values":[1,13,25,37,49,61,73,85,97,109,121,133,145,157,169,181,193,205,217,229,241,253,265,277,289,301,313,325,337,349],"labelOverlap":false,"tickSize":5,"labelPadding":2,"title":"Observação","titlePadding":4}}},
   "layer":[
    {"data":{"name":"sep"},"mark":{"type":"rule","color":"#8066b0","strokeDash":[5,3],"strokeWidth":1},"encoding":{}},
    {"data":{"name":"lim"},"transform":[{"filter":"datum.p=='D'"},{"fold":["mu","mc","ml"]}],"mark":{"type":"rule","strokeWidth":1.3},"encoding":{"x2":{"field":"j"},"y":{"field":"value","type":"quantitative","scale":{"domain":[-0.45,9.65],"nice":false,"zero":false},"axis":{"orient":"right","values":[1.1,0.45,-0.15],"labelExpr":"datum.value==1.1?'LSC':datum.value==0.45?'A̅M̅':'LIC'","ticks":false,"title":null,"labelPadding":7,"labelOverlap":false,"labelFontSize":11.5}},"color":{"field":"key","type":"nominal","scale":{"domain":["mu","mc","ml"],"range":["#c57a88","#74bf98","#9aa8a0"]},"legend":null}}},
    {"data":{"name":"D"},"mark":{"type":"line","color":"#57a3c7","strokeWidth":0.8},"encoding":{"y":{"field":"m","type":"quantitative","scale":{"domain":[-0.45,9.65],"nice":false,"zero":false},"axis":{"orient":"left","values":[0,1,2,3,4,5,6,7,8,9],"title":"Amplitude móvel","tickSize":5,"titlePadding":8}}}},
    {"data":{"name":"D"},"mark":{"type":"circle","color":"#1d5b9d","size":16,"opacity":1},"encoding":{"y":{"field":"m","type":"quantitative","axis":null}}},
    {"data":{"name":"D"},"transform":[{"filter":"datum.q==1"}],"mark":{"type":"square","color":"#d0161b","size":28,"opacity":1},"encoding":{"y":{"field":"m","type":"quantitative","axis":null}}},
    {"data":{"name":"D"},"transform":[{"filter":"datum.q==1"}],"mark":{"type":"text","text":"1","dy":-8,"fontSize":9.5,"color":"#555","clip":true},"encoding":{"y":{"field":"m","type":"quantitative","axis":null}}}
   ]}
 ]}
]}
]}
]
}
